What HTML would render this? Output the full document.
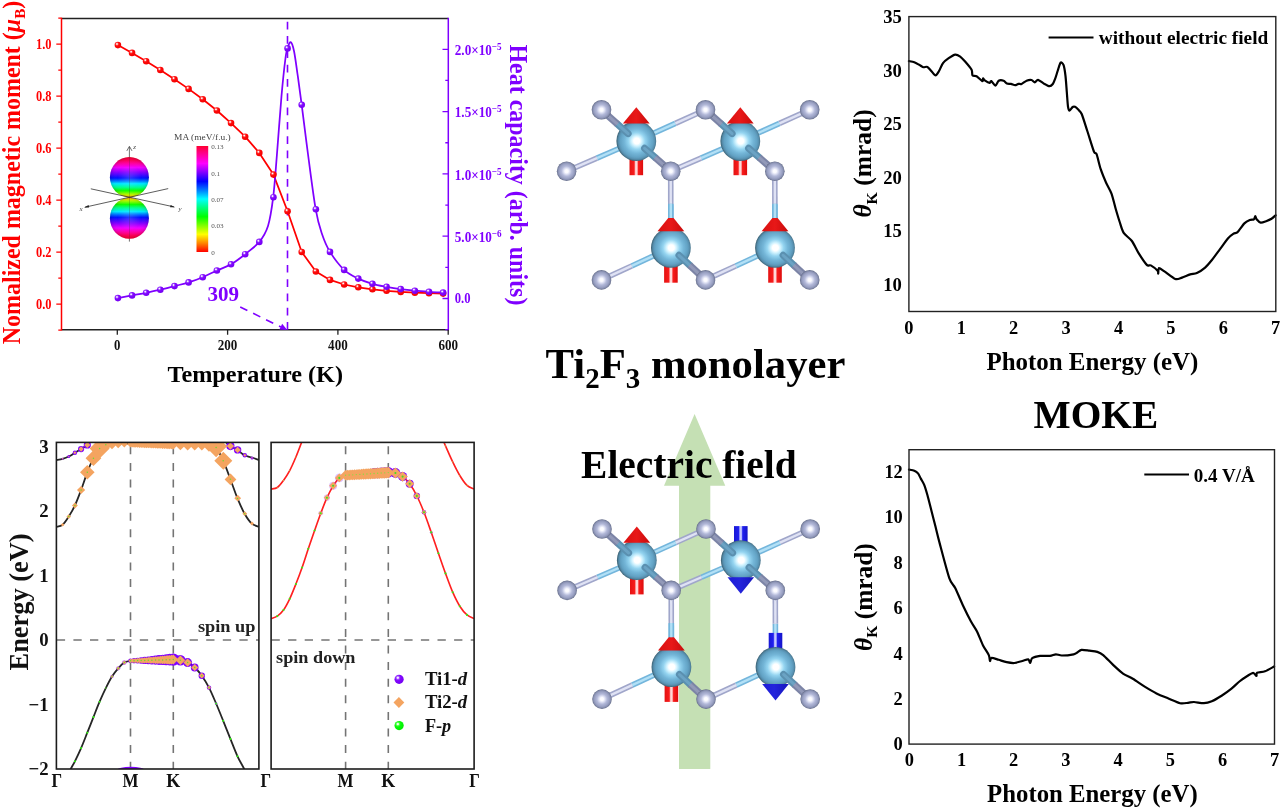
<!DOCTYPE html>
<html><head><meta charset="utf-8"><title>Ti2F3 monolayer</title>
<style>
html,body{margin:0;padding:0;background:#fff;}
body{width:1284px;height:811px;overflow:hidden;font-family:"Liberation Serif",serif;}
svg{display:block;filter:blur(0.35px);}
text{font-family:"Liberation Serif",serif;}
</style></head><body>
<svg width="1284" height="811" viewBox="0 0 1284 811">
<rect width="1284" height="811" fill="#fff"/>

<defs>
<radialGradient id="ballR" cx="0.36" cy="0.33" r="0.75"><stop offset="0" stop-color="#ffffff"/><stop offset="0.1" stop-color="#ffe8e8"/><stop offset="0.24" stop-color="#ff4a4a"/><stop offset="0.42" stop-color="#ff0a0a"/><stop offset="1" stop-color="#ee0000"/></radialGradient>
<radialGradient id="ballP" cx="0.36" cy="0.33" r="0.75"><stop offset="0" stop-color="#ffffff"/><stop offset="0.1" stop-color="#f0e6ff"/><stop offset="0.24" stop-color="#a04cff"/><stop offset="0.42" stop-color="#8206ff"/><stop offset="1" stop-color="#7200ee"/></radialGradient>
<radialGradient id="ballG" cx="0.36" cy="0.33" r="0.75"><stop offset="0" stop-color="#ffffff"/><stop offset="0.1" stop-color="#e8ffe6"/><stop offset="0.24" stop-color="#50ff48"/><stop offset="0.42" stop-color="#08fb08"/><stop offset="1" stop-color="#00ea00"/></radialGradient>
<linearGradient id="cbar" x1="0" y1="0" x2="0" y2="1">
<stop offset="0" stop-color="#ff0030"/><stop offset="0.06" stop-color="#ff0080"/><stop offset="0.165" stop-color="#ff00ff"/><stop offset="0.25" stop-color="#8000ff"/><stop offset="0.333" stop-color="#0000ff"/><stop offset="0.42" stop-color="#0080ff"/><stop offset="0.5" stop-color="#00ffff"/><stop offset="0.58" stop-color="#00ff80"/><stop offset="0.667" stop-color="#00ff00"/><stop offset="0.75" stop-color="#80ff00"/><stop offset="0.833" stop-color="#ffff00"/><stop offset="0.92" stop-color="#ff8000"/><stop offset="1" stop-color="#ff0000"/>
</linearGradient>
<linearGradient id="lobeU" x1="0" y1="0" x2="0" y2="1">
<stop offset="0" stop-color="#ff0030"/><stop offset="0.08" stop-color="#ff0058"/><stop offset="0.16" stop-color="#ff00a0"/><stop offset="0.26" stop-color="#f000ff"/><stop offset="0.38" stop-color="#8000ff"/><stop offset="0.52" stop-color="#0010ff"/><stop offset="0.6" stop-color="#0080ff"/><stop offset="0.66" stop-color="#00e8ff"/><stop offset="0.75" stop-color="#00ff90"/><stop offset="0.835" stop-color="#10ff00"/><stop offset="0.92" stop-color="#b0ff00"/><stop offset="0.97" stop-color="#ffe000"/><stop offset="1" stop-color="#ff9000"/>
</linearGradient>
<linearGradient id="lobeD" x1="0" y1="1" x2="0" y2="0">
<stop offset="0" stop-color="#ff0030"/><stop offset="0.08" stop-color="#ff0058"/><stop offset="0.16" stop-color="#ff00a0"/><stop offset="0.26" stop-color="#f000ff"/><stop offset="0.38" stop-color="#8000ff"/><stop offset="0.52" stop-color="#0010ff"/><stop offset="0.6" stop-color="#0080ff"/><stop offset="0.66" stop-color="#00e8ff"/><stop offset="0.75" stop-color="#00ff90"/><stop offset="0.835" stop-color="#10ff00"/><stop offset="0.92" stop-color="#b0ff00"/><stop offset="0.97" stop-color="#ffe000"/><stop offset="1" stop-color="#ff9000"/>
</linearGradient>
<radialGradient id="lobeSh" cx="0.5" cy="0.5" r="0.5"><stop offset="0" stop-color="#fff" stop-opacity="0.16"/><stop offset="0.6" stop-color="#fff" stop-opacity="0"/><stop offset="0.88" stop-color="#000" stop-opacity="0.04"/><stop offset="1" stop-color="#000" stop-opacity="0.14"/></radialGradient>
<radialGradient id="gTi" cx="0.51" cy="0.5" r="0.5"><stop offset="0" stop-color="#ffffff"/><stop offset="0.15" stop-color="#ffffff"/><stop offset="0.25" stop-color="#d4f4ff"/><stop offset="0.42" stop-color="#94d4f0"/><stop offset="0.62" stop-color="#74b6d8"/><stop offset="0.82" stop-color="#62a2c4"/><stop offset="0.91" stop-color="#5890b0"/><stop offset="0.97" stop-color="#487890"/><stop offset="1" stop-color="#3e6478"/></radialGradient>
<radialGradient id="gF" cx="0.5" cy="0.5" r="0.5"><stop offset="0" stop-color="#ffffff"/><stop offset="0.17" stop-color="#fafaff"/><stop offset="0.32" stop-color="#dcdff2"/><stop offset="0.52" stop-color="#b2b8d8"/><stop offset="0.76" stop-color="#9aa1c3"/><stop offset="0.89" stop-color="#858dad"/><stop offset="0.97" stop-color="#6a7290"/><stop offset="1" stop-color="#5a627e"/></radialGradient>
<linearGradient id="tailR" x1="0" y1="0" x2="1" y2="0"><stop offset="0" stop-color="#e41212"/><stop offset="0.34" stop-color="#f81c1c"/><stop offset="0.45" stop-color="#ffd8d8"/><stop offset="0.55" stop-color="#ffd8d8"/><stop offset="0.66" stop-color="#f81c1c"/><stop offset="1" stop-color="#dc0c0c"/></linearGradient>
<linearGradient id="tailB" x1="0" y1="0" x2="1" y2="0"><stop offset="0" stop-color="#1818d4"/><stop offset="0.34" stop-color="#2020f0"/><stop offset="0.44" stop-color="#c4c8ff"/><stop offset="0.54" stop-color="#c4c8ff"/><stop offset="0.64" stop-color="#2020f0"/><stop offset="1" stop-color="#1414c8"/></linearGradient>
<linearGradient id="coneR" x1="0" y1="0" x2="1" y2="0"><stop offset="0" stop-color="#d81010"/><stop offset="0.5" stop-color="#e81818"/><stop offset="1" stop-color="#c80c0c"/></linearGradient>
<linearGradient id="coneB" x1="0" y1="0" x2="1" y2="0"><stop offset="0" stop-color="#1c1cd8"/><stop offset="0.45" stop-color="#2424dc"/><stop offset="1" stop-color="#1616bc"/></linearGradient>
</defs>
<path d="M694.6 414 L725.3 485.8 L710.3 485.8 L710.3 769 L679 769 L679 485.8 L664 485.8 z" fill="#c5e0b4"/>
<g transform="translate(0 0)">
<line x1="636.3" y1="141" x2="675.4" y2="123.37" stroke="#74b6dc" stroke-width="5.6" stroke-linecap="butt"/><line x1="675.4" y1="123.37" x2="705.5" y2="109.8" stroke="#a0a6ca" stroke-width="5.6"/><line x1="636.3" y1="141" x2="675.4" y2="123.37" stroke="#b2e0f6" stroke-width="2.4" stroke-linecap="butt"/><line x1="675.4" y1="123.37" x2="705.5" y2="109.8" stroke="#dfe2f4" stroke-width="2.4"/>
<line x1="636.3" y1="141" x2="596.92" y2="158.06" stroke="#74b6dc" stroke-width="5.6" stroke-linecap="butt"/><line x1="596.92" y1="158.06" x2="566.6" y2="171.2" stroke="#a0a6ca" stroke-width="5.6"/><line x1="636.3" y1="141" x2="596.92" y2="158.06" stroke="#b2e0f6" stroke-width="2.4" stroke-linecap="butt"/><line x1="596.92" y1="158.06" x2="566.6" y2="171.2" stroke="#dfe2f4" stroke-width="2.4"/>
<line x1="740.3" y1="141" x2="779.51" y2="123.37" stroke="#74b6dc" stroke-width="5.6" stroke-linecap="butt"/><line x1="779.51" y1="123.37" x2="809.7" y2="109.8" stroke="#a0a6ca" stroke-width="5.6"/><line x1="740.3" y1="141" x2="779.51" y2="123.37" stroke="#b2e0f6" stroke-width="2.4" stroke-linecap="butt"/><line x1="779.51" y1="123.37" x2="809.7" y2="109.8" stroke="#dfe2f4" stroke-width="2.4"/>
<line x1="740.3" y1="141" x2="700.98" y2="158.06" stroke="#74b6dc" stroke-width="5.6" stroke-linecap="butt"/><line x1="700.98" y1="158.06" x2="670.7" y2="171.2" stroke="#a0a6ca" stroke-width="5.6"/><line x1="740.3" y1="141" x2="700.98" y2="158.06" stroke="#b2e0f6" stroke-width="2.4" stroke-linecap="butt"/><line x1="700.98" y1="158.06" x2="670.7" y2="171.2" stroke="#dfe2f4" stroke-width="2.4"/>
<line x1="670.9" y1="247.8" x2="670.79" y2="204.52" stroke="#74b6dc" stroke-width="5.6" stroke-linecap="butt"/><line x1="670.79" y1="204.52" x2="670.7" y2="171.2" stroke="#a0a6ca" stroke-width="5.6"/><line x1="670.9" y1="247.8" x2="670.79" y2="204.52" stroke="#b2e0f6" stroke-width="2.4" stroke-linecap="butt"/><line x1="670.79" y1="204.52" x2="670.7" y2="171.2" stroke="#dfe2f4" stroke-width="2.4"/>
<line x1="670.9" y1="247.8" x2="631.69" y2="265.94" stroke="#74b6dc" stroke-width="5.6" stroke-linecap="butt"/><line x1="631.69" y1="265.94" x2="601.5" y2="279.9" stroke="#a0a6ca" stroke-width="5.6"/><line x1="670.9" y1="247.8" x2="631.69" y2="265.94" stroke="#b2e0f6" stroke-width="2.4" stroke-linecap="butt"/><line x1="631.69" y1="265.94" x2="601.5" y2="279.9" stroke="#dfe2f4" stroke-width="2.4"/>
<line x1="775" y1="247.8" x2="774.89" y2="204.52" stroke="#74b6dc" stroke-width="5.6" stroke-linecap="butt"/><line x1="774.89" y1="204.52" x2="774.8" y2="171.2" stroke="#a0a6ca" stroke-width="5.6"/><line x1="775" y1="247.8" x2="774.89" y2="204.52" stroke="#b2e0f6" stroke-width="2.4" stroke-linecap="butt"/><line x1="774.89" y1="204.52" x2="774.8" y2="171.2" stroke="#dfe2f4" stroke-width="2.4"/>
<line x1="775" y1="247.8" x2="735.73" y2="265.94" stroke="#74b6dc" stroke-width="5.6" stroke-linecap="butt"/><line x1="735.73" y1="265.94" x2="705.5" y2="279.9" stroke="#a0a6ca" stroke-width="5.6"/><line x1="775" y1="247.8" x2="735.73" y2="265.94" stroke="#b2e0f6" stroke-width="2.4" stroke-linecap="butt"/><line x1="735.73" y1="265.94" x2="705.5" y2="279.9" stroke="#dfe2f4" stroke-width="2.4"/>
<rect x="629.5" y="158.2" width="13.6" height="17" fill="url(#tailR)"/>
<rect x="733.5" y="158.2" width="13.6" height="17" fill="url(#tailR)"/>
<rect x="664.1" y="265" width="13.6" height="17.7" fill="url(#tailR)"/>
<rect x="768.2" y="265" width="13.6" height="17.7" fill="url(#tailR)"/>
<circle cx="636.3" cy="141" r="19.9" fill="url(#gTi)"/>
<circle cx="740.3" cy="141" r="19.9" fill="url(#gTi)"/>
<circle cx="670.9" cy="247.8" r="19.9" fill="url(#gTi)"/>
<circle cx="775" cy="247.8" r="19.9" fill="url(#gTi)"/>
<path d="M622.9 123.6 L649.7 123.6 L636.3 107.2 z" fill="url(#coneR)"/>
<path d="M726.9 123.6 L753.7 123.6 L740.3 107.2 z" fill="url(#coneR)"/>
<path d="M657.5 231.2 L684.3 231.2 L670.9 214.8 z" fill="url(#coneR)"/>
<line x1="670.8" y1="203.8" x2="670.8" y2="218" stroke="#74b6dc" stroke-width="5.6"/>
<line x1="670.8" y1="203.8" x2="670.8" y2="218" stroke="#b2e0f6" stroke-width="2.4"/>
<path d="M761.6 231.2 L788.4 231.2 L775 214.8 z" fill="url(#coneR)"/>
<line x1="774.9" y1="203.8" x2="774.9" y2="218" stroke="#74b6dc" stroke-width="5.6"/>
<line x1="774.9" y1="203.8" x2="774.9" y2="218" stroke="#b2e0f6" stroke-width="2.4"/>
<line x1="628.11" y1="133.66" x2="617.47" y2="124.11" stroke="#5b90b0" stroke-width="7" stroke-linecap="round"/><line x1="617.47" y1="124.11" x2="601.5" y2="109.8" stroke="#7c84a6" stroke-width="7"/><line x1="628.11" y1="133.66" x2="617.47" y2="124.11" stroke="#6ba3c4" stroke-width="3" stroke-linecap="round"/><line x1="617.47" y1="124.11" x2="601.5" y2="109.8" stroke="#9299b8" stroke-width="3"/>
<line x1="644.57" y1="148.26" x2="655.02" y2="157.43" stroke="#5b90b0" stroke-width="7" stroke-linecap="round"/><line x1="655.02" y1="157.43" x2="670.7" y2="171.2" stroke="#7c84a6" stroke-width="7"/><line x1="644.57" y1="148.26" x2="655.02" y2="157.43" stroke="#6ba3c4" stroke-width="3" stroke-linecap="round"/><line x1="655.02" y1="157.43" x2="670.7" y2="171.2" stroke="#9299b8" stroke-width="3"/>
<line x1="732.11" y1="133.66" x2="721.47" y2="124.11" stroke="#5b90b0" stroke-width="7" stroke-linecap="round"/><line x1="721.47" y1="124.11" x2="705.5" y2="109.8" stroke="#7c84a6" stroke-width="7"/><line x1="732.11" y1="133.66" x2="721.47" y2="124.11" stroke="#6ba3c4" stroke-width="3" stroke-linecap="round"/><line x1="721.47" y1="124.11" x2="705.5" y2="109.8" stroke="#9299b8" stroke-width="3"/>
<line x1="748.58" y1="148.25" x2="759.07" y2="157.43" stroke="#5b90b0" stroke-width="7" stroke-linecap="round"/><line x1="759.07" y1="157.43" x2="774.8" y2="171.2" stroke="#7c84a6" stroke-width="7"/><line x1="748.58" y1="148.25" x2="759.07" y2="157.43" stroke="#6ba3c4" stroke-width="3" stroke-linecap="round"/><line x1="759.07" y1="157.43" x2="774.8" y2="171.2" stroke="#9299b8" stroke-width="3"/>
<line x1="678.96" y1="255.28" x2="689.58" y2="265.13" stroke="#5b90b0" stroke-width="7" stroke-linecap="round"/><line x1="689.58" y1="265.13" x2="705.5" y2="279.9" stroke="#7c84a6" stroke-width="7"/><line x1="678.96" y1="255.28" x2="689.58" y2="265.13" stroke="#6ba3c4" stroke-width="3" stroke-linecap="round"/><line x1="689.58" y1="265.13" x2="705.5" y2="279.9" stroke="#9299b8" stroke-width="3"/>
<line x1="783.07" y1="255.27" x2="793.72" y2="265.12" stroke="#5b90b0" stroke-width="7" stroke-linecap="round"/><line x1="793.72" y1="265.12" x2="809.7" y2="279.9" stroke="#7c84a6" stroke-width="7"/><line x1="783.07" y1="255.27" x2="793.72" y2="265.12" stroke="#6ba3c4" stroke-width="3" stroke-linecap="round"/><line x1="793.72" y1="265.12" x2="809.7" y2="279.9" stroke="#9299b8" stroke-width="3"/>
<circle cx="601.5" cy="109.8" r="9.8" fill="url(#gF)"/>
<circle cx="705.5" cy="109.8" r="9.8" fill="url(#gF)"/>
<circle cx="809.7" cy="109.8" r="9.8" fill="url(#gF)"/>
<circle cx="566.6" cy="171.2" r="9.8" fill="url(#gF)"/>
<circle cx="670.7" cy="171.2" r="9.8" fill="url(#gF)"/>
<circle cx="774.8" cy="171.2" r="9.8" fill="url(#gF)"/>
<circle cx="601.5" cy="279.9" r="9.8" fill="url(#gF)"/>
<circle cx="705.5" cy="279.9" r="9.8" fill="url(#gF)"/>
<circle cx="809.7" cy="279.9" r="9.8" fill="url(#gF)"/>
</g>
<g transform="translate(0.5 419.2)">
<line x1="636.3" y1="141" x2="675.4" y2="123.37" stroke="#74b6dc" stroke-width="5.6" stroke-linecap="butt"/><line x1="675.4" y1="123.37" x2="705.5" y2="109.8" stroke="#a0a6ca" stroke-width="5.6"/><line x1="636.3" y1="141" x2="675.4" y2="123.37" stroke="#b2e0f6" stroke-width="2.4" stroke-linecap="butt"/><line x1="675.4" y1="123.37" x2="705.5" y2="109.8" stroke="#dfe2f4" stroke-width="2.4"/>
<line x1="636.3" y1="141" x2="596.92" y2="158.06" stroke="#74b6dc" stroke-width="5.6" stroke-linecap="butt"/><line x1="596.92" y1="158.06" x2="566.6" y2="171.2" stroke="#a0a6ca" stroke-width="5.6"/><line x1="636.3" y1="141" x2="596.92" y2="158.06" stroke="#b2e0f6" stroke-width="2.4" stroke-linecap="butt"/><line x1="596.92" y1="158.06" x2="566.6" y2="171.2" stroke="#dfe2f4" stroke-width="2.4"/>
<line x1="740.3" y1="141" x2="779.51" y2="123.37" stroke="#74b6dc" stroke-width="5.6" stroke-linecap="butt"/><line x1="779.51" y1="123.37" x2="809.7" y2="109.8" stroke="#a0a6ca" stroke-width="5.6"/><line x1="740.3" y1="141" x2="779.51" y2="123.37" stroke="#b2e0f6" stroke-width="2.4" stroke-linecap="butt"/><line x1="779.51" y1="123.37" x2="809.7" y2="109.8" stroke="#dfe2f4" stroke-width="2.4"/>
<line x1="740.3" y1="141" x2="700.98" y2="158.06" stroke="#74b6dc" stroke-width="5.6" stroke-linecap="butt"/><line x1="700.98" y1="158.06" x2="670.7" y2="171.2" stroke="#a0a6ca" stroke-width="5.6"/><line x1="740.3" y1="141" x2="700.98" y2="158.06" stroke="#b2e0f6" stroke-width="2.4" stroke-linecap="butt"/><line x1="700.98" y1="158.06" x2="670.7" y2="171.2" stroke="#dfe2f4" stroke-width="2.4"/>
<line x1="670.9" y1="247.8" x2="670.79" y2="204.52" stroke="#74b6dc" stroke-width="5.6" stroke-linecap="butt"/><line x1="670.79" y1="204.52" x2="670.7" y2="171.2" stroke="#a0a6ca" stroke-width="5.6"/><line x1="670.9" y1="247.8" x2="670.79" y2="204.52" stroke="#b2e0f6" stroke-width="2.4" stroke-linecap="butt"/><line x1="670.79" y1="204.52" x2="670.7" y2="171.2" stroke="#dfe2f4" stroke-width="2.4"/>
<line x1="670.9" y1="247.8" x2="631.69" y2="265.94" stroke="#74b6dc" stroke-width="5.6" stroke-linecap="butt"/><line x1="631.69" y1="265.94" x2="601.5" y2="279.9" stroke="#a0a6ca" stroke-width="5.6"/><line x1="670.9" y1="247.8" x2="631.69" y2="265.94" stroke="#b2e0f6" stroke-width="2.4" stroke-linecap="butt"/><line x1="631.69" y1="265.94" x2="601.5" y2="279.9" stroke="#dfe2f4" stroke-width="2.4"/>
<line x1="775" y1="247.8" x2="774.89" y2="204.52" stroke="#74b6dc" stroke-width="5.6" stroke-linecap="butt"/><line x1="774.89" y1="204.52" x2="774.8" y2="171.2" stroke="#a0a6ca" stroke-width="5.6"/><line x1="775" y1="247.8" x2="774.89" y2="204.52" stroke="#b2e0f6" stroke-width="2.4" stroke-linecap="butt"/><line x1="774.89" y1="204.52" x2="774.8" y2="171.2" stroke="#dfe2f4" stroke-width="2.4"/>
<line x1="775" y1="247.8" x2="735.73" y2="265.94" stroke="#74b6dc" stroke-width="5.6" stroke-linecap="butt"/><line x1="735.73" y1="265.94" x2="705.5" y2="279.9" stroke="#a0a6ca" stroke-width="5.6"/><line x1="775" y1="247.8" x2="735.73" y2="265.94" stroke="#b2e0f6" stroke-width="2.4" stroke-linecap="butt"/><line x1="735.73" y1="265.94" x2="705.5" y2="279.9" stroke="#dfe2f4" stroke-width="2.4"/>
<rect x="629.5" y="158.2" width="13.6" height="17" fill="url(#tailR)"/>
<rect x="733.5" y="106.9" width="13.6" height="17" fill="url(#tailB)"/>
<rect x="664.1" y="265" width="13.6" height="17.7" fill="url(#tailR)"/>
<rect x="768.2" y="213.7" width="13.6" height="17" fill="url(#tailB)"/>
<circle cx="636.3" cy="141" r="19.9" fill="url(#gTi)"/>
<circle cx="740.3" cy="141" r="19.9" fill="url(#gTi)"/>
<circle cx="670.9" cy="247.8" r="19.9" fill="url(#gTi)"/>
<circle cx="775" cy="247.8" r="19.9" fill="url(#gTi)"/>
<path d="M622.9 123.6 L649.7 123.6 L636.3 107.2 z" fill="url(#coneR)"/>
<path d="M727 158.1 L753.6 158.1 L740.3 174.5 z" fill="url(#coneB)"/>
<path d="M657.5 231.2 L684.3 231.2 L670.9 214.8 z" fill="url(#coneR)"/>
<line x1="670.8" y1="203.8" x2="670.8" y2="218" stroke="#74b6dc" stroke-width="5.6"/>
<line x1="670.8" y1="203.8" x2="670.8" y2="218" stroke="#b2e0f6" stroke-width="2.4"/>
<path d="M761.7 264.9 L788.3 264.9 L775 281.3 z" fill="url(#coneB)"/>
<line x1="628.11" y1="133.66" x2="617.47" y2="124.11" stroke="#5b90b0" stroke-width="7" stroke-linecap="round"/><line x1="617.47" y1="124.11" x2="601.5" y2="109.8" stroke="#7c84a6" stroke-width="7"/><line x1="628.11" y1="133.66" x2="617.47" y2="124.11" stroke="#6ba3c4" stroke-width="3" stroke-linecap="round"/><line x1="617.47" y1="124.11" x2="601.5" y2="109.8" stroke="#9299b8" stroke-width="3"/>
<line x1="644.57" y1="148.26" x2="655.02" y2="157.43" stroke="#5b90b0" stroke-width="7" stroke-linecap="round"/><line x1="655.02" y1="157.43" x2="670.7" y2="171.2" stroke="#7c84a6" stroke-width="7"/><line x1="644.57" y1="148.26" x2="655.02" y2="157.43" stroke="#6ba3c4" stroke-width="3" stroke-linecap="round"/><line x1="655.02" y1="157.43" x2="670.7" y2="171.2" stroke="#9299b8" stroke-width="3"/>
<line x1="732.11" y1="133.66" x2="721.47" y2="124.11" stroke="#5b90b0" stroke-width="7" stroke-linecap="round"/><line x1="721.47" y1="124.11" x2="705.5" y2="109.8" stroke="#7c84a6" stroke-width="7"/><line x1="732.11" y1="133.66" x2="721.47" y2="124.11" stroke="#6ba3c4" stroke-width="3" stroke-linecap="round"/><line x1="721.47" y1="124.11" x2="705.5" y2="109.8" stroke="#9299b8" stroke-width="3"/>
<line x1="748.58" y1="148.25" x2="759.07" y2="157.43" stroke="#5b90b0" stroke-width="7" stroke-linecap="round"/><line x1="759.07" y1="157.43" x2="774.8" y2="171.2" stroke="#7c84a6" stroke-width="7"/><line x1="748.58" y1="148.25" x2="759.07" y2="157.43" stroke="#6ba3c4" stroke-width="3" stroke-linecap="round"/><line x1="759.07" y1="157.43" x2="774.8" y2="171.2" stroke="#9299b8" stroke-width="3"/>
<line x1="678.96" y1="255.28" x2="689.58" y2="265.13" stroke="#5b90b0" stroke-width="7" stroke-linecap="round"/><line x1="689.58" y1="265.13" x2="705.5" y2="279.9" stroke="#7c84a6" stroke-width="7"/><line x1="678.96" y1="255.28" x2="689.58" y2="265.13" stroke="#6ba3c4" stroke-width="3" stroke-linecap="round"/><line x1="689.58" y1="265.13" x2="705.5" y2="279.9" stroke="#9299b8" stroke-width="3"/>
<line x1="783.07" y1="255.27" x2="793.72" y2="265.12" stroke="#5b90b0" stroke-width="7" stroke-linecap="round"/><line x1="793.72" y1="265.12" x2="809.7" y2="279.9" stroke="#7c84a6" stroke-width="7"/><line x1="783.07" y1="255.27" x2="793.72" y2="265.12" stroke="#6ba3c4" stroke-width="3" stroke-linecap="round"/><line x1="793.72" y1="265.12" x2="809.7" y2="279.9" stroke="#9299b8" stroke-width="3"/>
<circle cx="601.5" cy="109.8" r="9.8" fill="url(#gF)"/>
<circle cx="705.5" cy="109.8" r="9.8" fill="url(#gF)"/>
<circle cx="809.7" cy="109.8" r="9.8" fill="url(#gF)"/>
<circle cx="566.6" cy="171.2" r="9.8" fill="url(#gF)"/>
<circle cx="670.7" cy="171.2" r="9.8" fill="url(#gF)"/>
<circle cx="774.8" cy="171.2" r="9.8" fill="url(#gF)"/>
<circle cx="601.5" cy="279.9" r="9.8" fill="url(#gF)"/>
<circle cx="705.5" cy="279.9" r="9.8" fill="url(#gF)"/>
<circle cx="809.7" cy="279.9" r="9.8" fill="url(#gF)"/>
</g>
<text x="545.6" y="377.9" font-family="Liberation Serif" font-size="42" font-weight="bold" fill="#000" textLength="299.8" lengthAdjust="spacingAndGlyphs">Ti<tspan font-size="28.5" dy="10">2</tspan><tspan dy="-10">F</tspan><tspan font-size="28.5" dy="10">3</tspan><tspan dy="-10"> monolayer</tspan></text>
<text x="581.1" y="477.7" font-family="Liberation Serif" font-size="39" font-weight="bold" fill="#000" text-anchor="start" textLength="215.6" lengthAdjust="spacingAndGlyphs" >Electric field</text>
<g>
<line x1="129.4" y1="147" x2="129.4" y2="241.6" stroke="#333" stroke-width="0.7"/>
<path d="M129.4 146.3 l-2.6 4.6 M129.4 146.3 l2.6 4.6" stroke="#333" stroke-width="0.7" fill="none"/>
<ellipse cx="129.4" cy="177.2" rx="19.5" ry="20.2" fill="url(#lobeU)"/>
<ellipse cx="129.4" cy="177.2" rx="19.5" ry="20.2" fill="url(#lobeSh)"/>
<ellipse cx="129.4" cy="218.2" rx="19.5" ry="20.5" fill="url(#lobeD)"/>
<ellipse cx="129.4" cy="218.2" rx="19.5" ry="20.5" fill="url(#lobeSh)"/>
<line x1="129.4" y1="157.7" x2="129.4" y2="237.6" stroke="#333" stroke-width="0.5" opacity="0.55"/>
<line x1="168.2" y1="188.6" x2="85" y2="207.2" stroke="#333" stroke-width="0.8"/>
<line x1="90.8" y1="188.8" x2="174" y2="206.9" stroke="#333" stroke-width="0.8"/>
<path d="M84 207.4 l4.6 -2.3 l0.5 2.3 z" fill="#222"/>
<path d="M175.2 207.2 l-4.6 -2.3 l-0.5 2.3 z" fill="#222"/>
<text x="133.2" y="149.3" font-family="Liberation Serif" font-size="7" font-weight="normal" font-style="italic" fill="#444" text-anchor="start" >z</text>
<text x="79.6" y="210.8" font-family="Liberation Serif" font-size="7" font-weight="normal" font-style="italic" fill="#444" text-anchor="start" >x</text>
<text x="178.4" y="210.6" font-family="Liberation Serif" font-size="7" font-weight="normal" font-style="italic" fill="#444" text-anchor="start" >y</text>
<rect x="196.5" y="146" width="11.7" height="106" fill="url(#cbar)"/>
<text x="211.2" y="149" font-family="Liberation Serif" font-size="7.1" font-weight="normal" fill="#555" text-anchor="start" >0.13</text>
<text x="211.2" y="175.6" font-family="Liberation Serif" font-size="7.1" font-weight="normal" fill="#555" text-anchor="start" >0.1</text>
<text x="211.2" y="201.7" font-family="Liberation Serif" font-size="7.1" font-weight="normal" fill="#555" text-anchor="start" >0.07</text>
<text x="211.2" y="228.3" font-family="Liberation Serif" font-size="7.1" font-weight="normal" fill="#555" text-anchor="start" >0.03</text>
<text x="211.2" y="255" font-family="Liberation Serif" font-size="7.1" font-weight="normal" fill="#555" text-anchor="start" >0</text>
<text x="174.1" y="140.3" font-family="Liberation Serif" font-size="8.6" font-weight="normal" fill="#444" text-anchor="start" textLength="56.6" lengthAdjust="spacingAndGlyphs" >MA (meV/f.u.)</text>
</g>
<line x1="61.5" y1="18.5" x2="448.3" y2="18.5" stroke="#222" stroke-width="1.5"/>
<line x1="61.5" y1="329.8" x2="448.3" y2="329.8" stroke="#222" stroke-width="1.5"/>
<line x1="61.5" y1="17.8" x2="61.5" y2="330.5" stroke="#ff0000" stroke-width="1.5"/>
<line x1="448.3" y1="17.8" x2="448.3" y2="330.5" stroke="#7f00ff" stroke-width="1.5"/>
<path d="M61.5 44.2 h-5.2 M61.5 96.2 h-5.2 M61.5 148.2 h-5.2 M61.5 200.2 h-5.2 M61.5 252.2 h-5.2 M61.5 304.2 h-5.2 M61.5 18.2 h-3.2 M61.5 70.2 h-3.2 M61.5 122.2 h-3.2 M61.5 174.2 h-3.2 M61.5 226.2 h-3.2 M61.5 278.2 h-3.2 M61.5 330.2 h-3.2 " stroke="#ff0000" stroke-width="1.3" fill="none"/>
<text x="51.5" y="48.8" font-family="Liberation Serif" font-size="13.8" font-weight="bold" fill="#ff0000" text-anchor="end" textLength="15.5" lengthAdjust="spacingAndGlyphs" >1.0</text>
<text x="51.5" y="100.8" font-family="Liberation Serif" font-size="13.8" font-weight="bold" fill="#ff0000" text-anchor="end" textLength="15.5" lengthAdjust="spacingAndGlyphs" >0.8</text>
<text x="51.5" y="152.8" font-family="Liberation Serif" font-size="13.8" font-weight="bold" fill="#ff0000" text-anchor="end" textLength="15.5" lengthAdjust="spacingAndGlyphs" >0.6</text>
<text x="51.5" y="204.8" font-family="Liberation Serif" font-size="13.8" font-weight="bold" fill="#ff0000" text-anchor="end" textLength="15.5" lengthAdjust="spacingAndGlyphs" >0.4</text>
<text x="51.5" y="256.8" font-family="Liberation Serif" font-size="13.8" font-weight="bold" fill="#ff0000" text-anchor="end" textLength="15.5" lengthAdjust="spacingAndGlyphs" >0.2</text>
<text x="51.5" y="308.8" font-family="Liberation Serif" font-size="13.8" font-weight="bold" fill="#ff0000" text-anchor="end" textLength="15.5" lengthAdjust="spacingAndGlyphs" >0.0</text>
<path d="M448.3 49.3 h-5.8 M448.3 111.6 h-5.8 M448.3 173.9 h-5.8 M448.3 236.2 h-5.8 M448.3 298.5 h-5.8 M448.3 80.45 h-3 M448.3 142.75 h-3 M448.3 205.05 h-3 M448.3 267.35 h-3 M448.3 329.65 h-3 " stroke="#7f00ff" stroke-width="1.3" fill="none"/>
<text x="454.8" y="54.9" font-family="Liberation Serif" font-size="13.8" font-weight="bold" fill="#7f00ff" textLength="46.8" lengthAdjust="spacingAndGlyphs">2.0&#215;10<tspan font-size="9.6" dy="-4.8">&#8722;5</tspan></text>
<text x="454.8" y="117.2" font-family="Liberation Serif" font-size="13.8" font-weight="bold" fill="#7f00ff" textLength="46.8" lengthAdjust="spacingAndGlyphs">1.5&#215;10<tspan font-size="9.6" dy="-4.8">&#8722;5</tspan></text>
<text x="454.8" y="179.5" font-family="Liberation Serif" font-size="13.8" font-weight="bold" fill="#7f00ff" textLength="46.8" lengthAdjust="spacingAndGlyphs">1.0&#215;10<tspan font-size="9.6" dy="-4.8">&#8722;5</tspan></text>
<text x="454.8" y="241.8" font-family="Liberation Serif" font-size="13.8" font-weight="bold" fill="#7f00ff" textLength="46.8" lengthAdjust="spacingAndGlyphs">5.0&#215;10<tspan font-size="9.6" dy="-4.8">&#8722;6</tspan></text>
<text x="454.8" y="303.3" font-family="Liberation Serif" font-size="13.8" font-weight="bold" fill="#7f00ff" text-anchor="start" textLength="15.8" lengthAdjust="spacingAndGlyphs" >0.0</text>
<path d="M117.3 329.8 v5 M227.6 329.8 v5 M337.9 329.8 v5 M448.2 329.8 v5 " stroke="#222" stroke-width="1.3" fill="none"/>
<text x="117.3" y="349.6" font-family="Liberation Serif" font-size="13.6" font-weight="bold" fill="#111" text-anchor="middle" textLength="6.4" lengthAdjust="spacingAndGlyphs" >0</text>
<text x="227.6" y="349.6" font-family="Liberation Serif" font-size="13.6" font-weight="bold" fill="#111" text-anchor="middle" textLength="19.6" lengthAdjust="spacingAndGlyphs" >200</text>
<text x="337.9" y="349.6" font-family="Liberation Serif" font-size="13.6" font-weight="bold" fill="#111" text-anchor="middle" textLength="19.6" lengthAdjust="spacingAndGlyphs" >400</text>
<text x="448.2" y="349.6" font-family="Liberation Serif" font-size="13.6" font-weight="bold" fill="#111" text-anchor="middle" textLength="19.6" lengthAdjust="spacingAndGlyphs" >600</text>
<text x="167.5" y="381.6" font-family="Liberation Serif" font-size="23.4" font-weight="bold" fill="#000" text-anchor="start" textLength="175.5" lengthAdjust="spacingAndGlyphs" >Temperature (K)</text>
<text transform="translate(20 344.2) rotate(-90)" font-family="Liberation Serif" font-size="24.4" font-weight="bold" fill="#ff0000" textLength="343.5" lengthAdjust="spacingAndGlyphs">Nomalized magnetic moment (<tspan font-style="italic">&#956;</tspan><tspan font-size="15.5" dy="5.4">B</tspan><tspan dy="-5.4">)</tspan></text>
<text transform="translate(510 44.4) rotate(90)" font-family="Liberation Serif" font-size="24.6" font-weight="bold" fill="#7f00ff" textLength="261" lengthAdjust="spacingAndGlyphs">Heat capacity (arb. units)</text>
<line x1="287.5" y1="329.8" x2="287.5" y2="19.5" stroke="#7f00ff" stroke-width="1.6" stroke-dasharray="7.7 6.6"/>
<line x1="240.2" y1="307" x2="281" y2="327" stroke="#7f00ff" stroke-width="1.6" stroke-dasharray="8 6.4"/>
<path d="M287.2 330 L279.4 329.6 L282.2 323.8 z" fill="#7f00ff"/>
<text x="207.5" y="301.3" font-family="Liberation Serif" font-size="21.4" font-weight="bold" fill="#7f00ff" text-anchor="start" textLength="31.6" lengthAdjust="spacingAndGlyphs" >309</text>
<path d="M117.9 45.1 L132.04 52.9 L146.18 61.2 L160.32 70 L174.46 79.2 L188.6 88.9 L202.74 99.3 L216.88 110.5 L231.02 123.1 L245.16 136.7 L259.3 152.9 L273.44 174.6 L287.58 211.2 L301.72 252 L315.86 271.5 L330 279.9 L344.14 284.5 L358.28 287.3 L372.42 289.3 L386.56 290.8 L400.7 291.9 L414.84 292.7 L428.98 293.2 L443.12 293.6" stroke="#ff0000" stroke-width="1.75" fill="none" stroke-linejoin="round"/>
<path d="M117.9 298.1 C120.26 297.65 127.33 296.28 132.04 295.4 C136.75 294.52 141.47 293.75 146.18 292.8 C150.89 291.85 155.61 290.82 160.32 289.7 C165.03 288.58 169.75 287.32 174.46 286.1 C179.17 284.88 183.89 283.88 188.6 282.4 C193.31 280.92 198.03 279.18 202.74 277.2 C207.45 275.22 212.17 272.65 216.88 270.5 C221.59 268.35 226.31 267.02 231.02 264.3 C235.73 261.58 240.45 257.93 245.16 254.2 C249.87 250.47 255.49 246.6 259.3 241.9 C263.11 237.2 265.68 233.45 268 226 C270.32 218.55 271.72 209.03 273.2 197.2 C274.68 185.37 275.52 171.87 276.9 155 C278.28 138.13 280.07 112.17 281.5 96 C282.93 79.83 284.48 66 285.5 58 C286.52 50 286.73 50.65 287.6 48 C288.47 45.35 289.63 41.6 290.7 42.1 C291.77 42.6 292.87 45.68 294 51 C295.13 56.32 296.22 65.03 297.5 74 C298.78 82.97 299.93 91.3 301.7 104.8 C303.47 118.3 305.77 137.58 308.1 155 C310.43 172.42 313.38 196.13 315.7 209.3 C318.02 222.47 319.62 226.9 322 234 C324.38 241.1 326.31 245.92 330 251.9 C333.69 257.88 339.43 265.45 344.14 269.9 C348.85 274.35 353.57 276.28 358.28 278.6 C362.99 280.92 367.71 282.43 372.42 283.8 C377.13 285.17 381.85 285.92 386.56 286.8 C391.27 287.68 395.99 288.45 400.7 289.1 C405.41 289.75 410.13 290.25 414.84 290.7 C419.55 291.15 424.27 291.48 428.98 291.8 C433.69 292.12 440.76 292.47 443.12 292.6" stroke="#7f00ff" stroke-width="1.75" fill="none" stroke-linejoin="round"/>
<circle cx="117.9" cy="45.1" r="3.3" fill="url(#ballR)"/>
<circle cx="132.04" cy="52.9" r="3.3" fill="url(#ballR)"/>
<circle cx="146.18" cy="61.2" r="3.3" fill="url(#ballR)"/>
<circle cx="160.32" cy="70" r="3.3" fill="url(#ballR)"/>
<circle cx="174.46" cy="79.2" r="3.3" fill="url(#ballR)"/>
<circle cx="188.6" cy="88.9" r="3.3" fill="url(#ballR)"/>
<circle cx="202.74" cy="99.3" r="3.3" fill="url(#ballR)"/>
<circle cx="216.88" cy="110.5" r="3.3" fill="url(#ballR)"/>
<circle cx="231.02" cy="123.1" r="3.3" fill="url(#ballR)"/>
<circle cx="245.16" cy="136.7" r="3.3" fill="url(#ballR)"/>
<circle cx="259.3" cy="152.9" r="3.3" fill="url(#ballR)"/>
<circle cx="273.44" cy="174.6" r="3.3" fill="url(#ballR)"/>
<circle cx="287.58" cy="211.2" r="3.3" fill="url(#ballR)"/>
<circle cx="301.72" cy="252" r="3.3" fill="url(#ballR)"/>
<circle cx="315.86" cy="271.5" r="3.3" fill="url(#ballR)"/>
<circle cx="330" cy="279.9" r="3.3" fill="url(#ballR)"/>
<circle cx="344.14" cy="284.5" r="3.3" fill="url(#ballR)"/>
<circle cx="358.28" cy="287.3" r="3.3" fill="url(#ballR)"/>
<circle cx="372.42" cy="289.3" r="3.3" fill="url(#ballR)"/>
<circle cx="386.56" cy="290.8" r="3.3" fill="url(#ballR)"/>
<circle cx="400.7" cy="291.9" r="3.3" fill="url(#ballR)"/>
<circle cx="414.84" cy="292.7" r="3.3" fill="url(#ballR)"/>
<circle cx="428.98" cy="293.2" r="3.3" fill="url(#ballR)"/>
<circle cx="443.12" cy="293.6" r="3.3" fill="url(#ballR)"/>
<circle cx="117.9" cy="298.1" r="3.3" fill="url(#ballP)"/>
<circle cx="132.04" cy="295.4" r="3.3" fill="url(#ballP)"/>
<circle cx="146.18" cy="292.8" r="3.3" fill="url(#ballP)"/>
<circle cx="160.32" cy="289.7" r="3.3" fill="url(#ballP)"/>
<circle cx="174.46" cy="286.1" r="3.3" fill="url(#ballP)"/>
<circle cx="188.6" cy="282.4" r="3.3" fill="url(#ballP)"/>
<circle cx="202.74" cy="277.2" r="3.3" fill="url(#ballP)"/>
<circle cx="216.88" cy="270.5" r="3.3" fill="url(#ballP)"/>
<circle cx="231.02" cy="264.3" r="3.3" fill="url(#ballP)"/>
<circle cx="245.16" cy="254.2" r="3.3" fill="url(#ballP)"/>
<circle cx="259.3" cy="241.9" r="3.3" fill="url(#ballP)"/>
<circle cx="273.44" cy="197.2" r="3.3" fill="url(#ballP)"/>
<circle cx="287.58" cy="48.4" r="3.3" fill="url(#ballP)"/>
<circle cx="301.72" cy="104.8" r="3.3" fill="url(#ballP)"/>
<circle cx="315.86" cy="209.3" r="3.3" fill="url(#ballP)"/>
<circle cx="330" cy="251.9" r="3.3" fill="url(#ballP)"/>
<circle cx="344.14" cy="269.9" r="3.3" fill="url(#ballP)"/>
<circle cx="358.28" cy="278.6" r="3.3" fill="url(#ballP)"/>
<circle cx="372.42" cy="283.8" r="3.3" fill="url(#ballP)"/>
<circle cx="386.56" cy="286.8" r="3.3" fill="url(#ballP)"/>
<circle cx="400.7" cy="289.1" r="3.3" fill="url(#ballP)"/>
<circle cx="414.84" cy="290.7" r="3.3" fill="url(#ballP)"/>
<circle cx="428.98" cy="291.8" r="3.3" fill="url(#ballP)"/>
<circle cx="443.12" cy="292.6" r="3.3" fill="url(#ballP)"/>
<clipPath id="cp1"><rect x="56.4" y="442.4" width="202.5" height="326.6"/></clipPath>
<g clip-path="url(#cp1)">
<line x1="130.5" y1="446.3" x2="130.5" y2="769" stroke="#747474" stroke-width="1.6" stroke-dasharray="8 8.6"/>
<line x1="173.3" y1="446.3" x2="173.3" y2="769" stroke="#747474" stroke-width="1.6" stroke-dasharray="8 8.6"/>
<line x1="56.8" y1="640" x2="258.9" y2="640" stroke="#747474" stroke-width="1.6" stroke-dasharray="8.3 8.3"/>
<path d="M66 779 C66.78 777.33 69.22 771.95 70.7 769 C72.18 766.05 73.17 764.78 74.9 761.3 C76.63 757.82 79.03 752.87 81.1 748.1 C83.17 743.33 85.24 737.87 87.3 732.7 C89.36 727.53 91.4 722.27 93.45 717.1 C95.5 711.93 97.54 706.53 99.6 701.7 C101.66 696.87 103.73 692.3 105.8 688.1 C107.87 683.9 109.93 679.8 112 676.5 C114.07 673.2 116.15 670.62 118.2 668.3 C120.25 665.98 122.25 663.85 124.3 662.6 C126.35 661.35 127.08 661.17 130.5 660.8 C133.92 660.43 140.05 660.53 144.8 660.4 C149.55 660.27 154.25 660.13 159 660 C163.75 659.87 169.73 659.55 173.3 659.6 C176.87 659.65 178.02 659.8 180.4 660.3 C182.78 660.8 185.22 661.4 187.6 662.6 C189.98 663.8 192.33 665.32 194.7 667.5 C197.07 669.68 199.42 672.35 201.8 675.7 C204.18 679.05 206.62 682.97 209 687.6 C211.38 692.23 213.73 697.97 216.1 703.5 C218.47 709.03 220.82 714.9 223.2 720.8 C225.58 726.7 228.02 732.98 230.4 738.9 C232.78 744.82 235.2 751.28 237.5 756.3 C239.8 761.32 242.37 765.22 244.2 769 C246.03 772.78 247.78 777.33 248.5 779" stroke="#262626" stroke-width="1.8" fill="none"/>
<path d="M56.4 526.8 C57.43 526.47 60.54 526.5 62.6 524.8 C64.66 523.1 66.7 519.82 68.75 516.6 C70.8 513.38 72.84 509.93 74.9 505.5 C76.96 501.07 79.03 495.53 81.1 490 C83.17 484.47 85.24 477.6 87.3 472.3 C89.36 467 91.4 462.18 93.45 458.2 C95.5 454.22 97.54 450.67 99.6 448.4 C101.66 446.13 103.73 445.37 105.8 444.6 C107.87 443.83 107.88 443.97 112 443.8 C116.12 443.63 120.28 443.5 130.5 443.6 C140.72 443.7 161.38 444.37 173.3 444.4 C185.22 444.43 196.05 443.82 202 443.8 C207.95 443.78 206.65 443.67 209 444.3 C211.35 444.93 213.73 444.87 216.1 447.6 C218.47 450.33 220.82 455.43 223.2 460.7 C225.58 465.97 228.02 472.92 230.4 479.2 C232.78 485.48 235.13 492.65 237.5 498.4 C239.87 504.15 242.22 509.5 244.6 513.7 C246.98 517.9 249.42 521.42 251.8 523.6 C254.18 525.78 257.72 526.27 258.9 526.8" stroke="#262626" stroke-width="1.8" fill="none"/>
<path d="M56.4 460 C57.43 459.8 60.54 459.38 62.6 458.8 C64.66 458.22 66.7 457.5 68.75 456.5 C70.8 455.5 72.84 454.03 74.9 452.8 C76.96 451.57 79.03 450.45 81.1 449.1 C83.17 447.75 85.24 446.38 87.3 444.7 C89.36 443.02 92.42 439.95 93.45 439" stroke="#262626" stroke-width="1.8" fill="none"/>
<path d="M258.9 460 C257.72 459.58 254.18 458.28 251.8 457.5 C249.42 456.72 246.98 456.53 244.6 455.3 C242.22 454.07 239.87 451.67 237.5 450.1 C235.13 448.53 232.78 447.58 230.4 445.9 C228.02 444.22 224.4 440.98 223.2 440" stroke="#262626" stroke-width="1.8" fill="none"/>
<circle cx="62.6" cy="458.8" r="1" fill="#7f00ff"/>
<circle cx="68.75" cy="456.5" r="1.5" fill="#7f00ff"/>
<circle cx="74.9" cy="452.8" r="2.2" fill="#7f00ff"/>
<circle cx="81.1" cy="449.1" r="3.1" fill="#7f00ff"/>
<circle cx="87.3" cy="444.9" r="3.6" fill="#7f00ff"/>
<circle cx="230.4" cy="446.1" r="4.1" fill="#7f00ff"/>
<circle cx="237.6" cy="449.9" r="3.7" fill="#7f00ff"/>
<circle cx="244.8" cy="455.3" r="2.2" fill="#7f00ff"/>
<circle cx="252" cy="457.9" r="1.5" fill="#7f00ff"/>
<path d="M62.6 458 l0.8 0.8 l-0.8 0.8 l-0.8 -0.8 z" fill="#f4a460"/>
<path d="M68.75 455.69 l0.8 0.8 l-0.8 0.8 l-0.8 -0.8 z" fill="#f4a460"/>
<path d="M74.9 451.31 l1.5 1.5 l-1.5 1.5 l-1.5 -1.5 z" fill="#f4a460"/>
<path d="M81.1 446.57 l2.53 2.53 l-2.53 2.53 l-2.53 -2.53 z" fill="#f4a460"/>
<path d="M87.3 441.79 l3.1 3.1 l-3.1 3.1 l-3.1 -3.1 z" fill="#f4a460"/>
<path d="M230.4 442.42 l3.68 3.68 l-3.68 3.68 l-3.68 -3.68 z" fill="#f4a460"/>
<path d="M237.6 446.68 l3.22 3.22 l-3.22 3.22 l-3.22 -3.22 z" fill="#f4a460"/>
<path d="M244.8 453.81 l1.5 1.5 l-1.5 1.5 l-1.5 -1.5 z" fill="#f4a460"/>
<path d="M252 457.09 l0.8 0.8 l-0.8 0.8 l-0.8 -0.8 z" fill="#f4a460"/>
<path d="M62.6 523 l1.8 1.8 l-1.8 1.8 l-1.8 -1.8 z" fill="#f4a460"/>
<path d="M68.75 514.3 l2.3 2.3 l-2.3 2.3 l-2.3 -2.3 z" fill="#f4a460"/>
<path d="M74.9 502.6 l2.9 2.9 l-2.9 2.9 l-2.9 -2.9 z" fill="#f4a460"/>
<path d="M81.1 485.9 l4.1 4.1 l-4.1 4.1 l-4.1 -4.1 z" fill="#f4a460"/>
<path d="M87.3 465 l7.3 7.3 l-7.3 7.3 l-7.3 -7.3 z" fill="#f4a460"/>
<path d="M93.45 450.3 l7.9 7.9 l-7.9 7.9 l-7.9 -7.9 z" fill="#f4a460"/>
<path d="M99.6 438.4 l10 10 l-10 10 l-10 -10 z" fill="#f4a460"/>
<path d="M105.8 437.8 l6.8 6.8 l-6.8 6.8 l-6.8 -6.8 z" fill="#f4a460"/>
<path d="M112 438.7 l5.3 5.3 l-5.3 5.3 l-5.3 -5.3 z" fill="#f4a460"/>
<path d="M118.2 439.8 l4.2 4.2 l-4.2 4.2 l-4.2 -4.2 z" fill="#f4a460"/>
<path d="M124.3 440.5 l3.5 3.5 l-3.5 3.5 l-3.5 -3.5 z" fill="#f4a460"/>
<path d="M180.4 437.7 l6.3 6.3 l-6.3 6.3 l-6.3 -6.3 z" fill="#f4a460"/>
<path d="M187.6 437.5 l6.5 6.5 l-6.5 6.5 l-6.5 -6.5 z" fill="#f4a460"/>
<path d="M194.7 437.5 l6.5 6.5 l-6.5 6.5 l-6.5 -6.5 z" fill="#f4a460"/>
<path d="M201.8 437.5 l6.5 6.5 l-6.5 6.5 l-6.5 -6.5 z" fill="#f4a460"/>
<path d="M209 436.8 l7.5 7.5 l-7.5 7.5 l-7.5 -7.5 z" fill="#f4a460"/>
<path d="M216.1 435.2 l11 11 l-11 11 l-11 -11 z" fill="#f4a460"/>
<path d="M223.3 451.8 l9 9 l-9 9 l-9 -9 z" fill="#f4a460"/>
<path d="M230.5 473.5 l5.9 5.9 l-5.9 5.9 l-5.9 -5.9 z" fill="#f4a460"/>
<path d="M237.7 494.8 l3.4 3.4 l-3.4 3.4 l-3.4 -3.4 z" fill="#f4a460"/>
<path d="M244.8 511.3 l2.4 2.4 l-2.4 2.4 l-2.4 -2.4 z" fill="#f4a460"/>
<path d="M252 521.5 l2 2 l-2 2 l-2 -2 z" fill="#f4a460"/>
<path d="M130.5 440.5 l3.5 3.5 l-3.5 3.5 l-3.5 -3.5 z" fill="#f4a460"/>
<path d="M132.28 440.42 l3.58 3.58 l-3.58 3.58 l-3.58 -3.58 z" fill="#f4a460"/>
<path d="M134.07 440.34 l3.66 3.66 l-3.66 3.66 l-3.66 -3.66 z" fill="#f4a460"/>
<path d="M135.85 440.26 l3.74 3.74 l-3.74 3.74 l-3.74 -3.74 z" fill="#f4a460"/>
<path d="M137.63 440.18 l3.82 3.82 l-3.82 3.82 l-3.82 -3.82 z" fill="#f4a460"/>
<path d="M139.42 440.1 l3.9 3.9 l-3.9 3.9 l-3.9 -3.9 z" fill="#f4a460"/>
<path d="M141.2 440.02 l3.98 3.98 l-3.98 3.98 l-3.98 -3.98 z" fill="#f4a460"/>
<path d="M142.98 439.95 l4.05 4.05 l-4.05 4.05 l-4.05 -4.05 z" fill="#f4a460"/>
<path d="M144.77 439.87 l4.13 4.13 l-4.13 4.13 l-4.13 -4.13 z" fill="#f4a460"/>
<path d="M146.55 439.79 l4.21 4.21 l-4.21 4.21 l-4.21 -4.21 z" fill="#f4a460"/>
<path d="M148.33 439.71 l4.29 4.29 l-4.29 4.29 l-4.29 -4.29 z" fill="#f4a460"/>
<path d="M150.12 439.63 l4.37 4.37 l-4.37 4.37 l-4.37 -4.37 z" fill="#f4a460"/>
<path d="M151.9 439.55 l4.45 4.45 l-4.45 4.45 l-4.45 -4.45 z" fill="#f4a460"/>
<path d="M153.68 439.47 l4.53 4.53 l-4.53 4.53 l-4.53 -4.53 z" fill="#f4a460"/>
<path d="M155.47 439.39 l4.61 4.61 l-4.61 4.61 l-4.61 -4.61 z" fill="#f4a460"/>
<path d="M157.25 439.31 l4.69 4.69 l-4.69 4.69 l-4.69 -4.69 z" fill="#f4a460"/>
<path d="M159.03 439.23 l4.77 4.77 l-4.77 4.77 l-4.77 -4.77 z" fill="#f4a460"/>
<path d="M160.82 439.15 l4.85 4.85 l-4.85 4.85 l-4.85 -4.85 z" fill="#f4a460"/>
<path d="M162.6 439.07 l4.92 4.92 l-4.92 4.92 l-4.92 -4.92 z" fill="#f4a460"/>
<path d="M164.38 439 l5 5 l-5 5 l-5 -5 z" fill="#f4a460"/>
<path d="M166.17 438.92 l5.08 5.08 l-5.08 5.08 l-5.08 -5.08 z" fill="#f4a460"/>
<path d="M167.95 438.84 l5.16 5.16 l-5.16 5.16 l-5.16 -5.16 z" fill="#f4a460"/>
<path d="M169.73 438.76 l5.24 5.24 l-5.24 5.24 l-5.24 -5.24 z" fill="#f4a460"/>
<path d="M171.52 438.68 l5.32 5.32 l-5.32 5.32 l-5.32 -5.32 z" fill="#f4a460"/>
<path d="M173.3 438.6 l5.4 5.4 l-5.4 5.4 l-5.4 -5.4 z" fill="#f4a460"/>
<circle cx="130.5" cy="660.8" r="2.3" fill="#7f00ff"/>
<circle cx="134.07" cy="660.7" r="2.62" fill="#7f00ff"/>
<circle cx="137.63" cy="660.6" r="2.95" fill="#7f00ff"/>
<circle cx="141.2" cy="660.5" r="3.27" fill="#7f00ff"/>
<circle cx="144.77" cy="660.4" r="3.6" fill="#7f00ff"/>
<circle cx="148.33" cy="660.3" r="3.92" fill="#7f00ff"/>
<circle cx="151.9" cy="660.2" r="4.25" fill="#7f00ff"/>
<circle cx="155.47" cy="660.1" r="4.58" fill="#7f00ff"/>
<circle cx="159.03" cy="660" r="4.9" fill="#7f00ff"/>
<circle cx="162.6" cy="659.9" r="5.22" fill="#7f00ff"/>
<circle cx="166.17" cy="659.8" r="5.55" fill="#7f00ff"/>
<circle cx="169.73" cy="659.7" r="5.88" fill="#7f00ff"/>
<circle cx="173.3" cy="659.6" r="6.2" fill="#7f00ff"/>
<circle cx="180.4" cy="660.3" r="5.2" fill="#7f00ff" opacity="1"/>
<circle cx="187.6" cy="662.6" r="4.5" fill="#7f00ff" opacity="1"/>
<circle cx="194.7" cy="667.5" r="3.9" fill="#7f00ff" opacity="1"/>
<circle cx="201.8" cy="675.7" r="3.2" fill="#7f00ff" opacity="1"/>
<circle cx="209" cy="687.6" r="2.2" fill="#7f00ff" opacity="1"/>
<circle cx="216.1" cy="703.5" r="1.2" fill="#7f00ff" opacity="1"/>
<circle cx="124.3" cy="662.6" r="2.3" fill="#7f00ff" opacity="0.55"/>
<circle cx="118.2" cy="668.3" r="2.1" fill="#7f00ff" opacity="0.55"/>
<circle cx="112" cy="676.5" r="1.7" fill="#7f00ff" opacity="0.55"/>
<path d="M130.5 658.7 l2.1 2.1 l-2.1 2.1 l-2.1 -2.1 z" fill="#f4a460"/>
<path d="M132.28 658.53 l2.22 2.22 l-2.22 2.22 l-2.22 -2.22 z" fill="#f4a460"/>
<path d="M134.07 658.36 l2.34 2.34 l-2.34 2.34 l-2.34 -2.34 z" fill="#f4a460"/>
<path d="M135.85 658.19 l2.46 2.46 l-2.46 2.46 l-2.46 -2.46 z" fill="#f4a460"/>
<path d="M137.63 658.02 l2.58 2.58 l-2.58 2.58 l-2.58 -2.58 z" fill="#f4a460"/>
<path d="M139.42 657.85 l2.7 2.7 l-2.7 2.7 l-2.7 -2.7 z" fill="#f4a460"/>
<path d="M141.2 657.67 l2.83 2.83 l-2.83 2.83 l-2.83 -2.83 z" fill="#f4a460"/>
<path d="M142.98 657.5 l2.95 2.95 l-2.95 2.95 l-2.95 -2.95 z" fill="#f4a460"/>
<path d="M144.77 657.33 l3.07 3.07 l-3.07 3.07 l-3.07 -3.07 z" fill="#f4a460"/>
<path d="M146.55 657.16 l3.19 3.19 l-3.19 3.19 l-3.19 -3.19 z" fill="#f4a460"/>
<path d="M148.33 656.99 l3.31 3.31 l-3.31 3.31 l-3.31 -3.31 z" fill="#f4a460"/>
<path d="M150.12 656.82 l3.43 3.43 l-3.43 3.43 l-3.43 -3.43 z" fill="#f4a460"/>
<path d="M151.9 656.65 l3.55 3.55 l-3.55 3.55 l-3.55 -3.55 z" fill="#f4a460"/>
<path d="M153.68 656.48 l3.67 3.67 l-3.67 3.67 l-3.67 -3.67 z" fill="#f4a460"/>
<path d="M155.47 656.31 l3.79 3.79 l-3.79 3.79 l-3.79 -3.79 z" fill="#f4a460"/>
<path d="M157.25 656.14 l3.91 3.91 l-3.91 3.91 l-3.91 -3.91 z" fill="#f4a460"/>
<path d="M159.03 655.97 l4.03 4.03 l-4.03 4.03 l-4.03 -4.03 z" fill="#f4a460"/>
<path d="M160.82 655.8 l4.15 4.15 l-4.15 4.15 l-4.15 -4.15 z" fill="#f4a460"/>
<path d="M162.6 655.62 l4.28 4.28 l-4.28 4.28 l-4.28 -4.28 z" fill="#f4a460"/>
<path d="M164.38 655.45 l4.4 4.4 l-4.4 4.4 l-4.4 -4.4 z" fill="#f4a460"/>
<path d="M166.17 655.28 l4.52 4.52 l-4.52 4.52 l-4.52 -4.52 z" fill="#f4a460"/>
<path d="M167.95 655.11 l4.64 4.64 l-4.64 4.64 l-4.64 -4.64 z" fill="#f4a460"/>
<path d="M169.73 654.94 l4.76 4.76 l-4.76 4.76 l-4.76 -4.76 z" fill="#f4a460"/>
<path d="M171.52 654.77 l4.88 4.88 l-4.88 4.88 l-4.88 -4.88 z" fill="#f4a460"/>
<path d="M173.3 654.6 l5 5 l-5 5 l-5 -5 z" fill="#f4a460"/>
<path d="M180.4 655.5 l4.8 4.8 l-4.8 4.8 l-4.8 -4.8 z" fill="#f4a460"/>
<path d="M187.6 658.4 l4.2 4.2 l-4.2 4.2 l-4.2 -4.2 z" fill="#f4a460"/>
<path d="M194.7 663.9 l3.6 3.6 l-3.6 3.6 l-3.6 -3.6 z" fill="#f4a460"/>
<path d="M201.8 672.8 l2.9 2.9 l-2.9 2.9 l-2.9 -2.9 z" fill="#f4a460"/>
<path d="M209 685.6 l2 2 l-2 2 l-2 -2 z" fill="#f4a460"/>
<path d="M216.1 702.5 l1 1 l-1 1 l-1 -1 z" fill="#f4a460"/>
<path d="M124.3 660.6 l2 2 l-2 2 l-2 -2 z" fill="#f4a460"/>
<path d="M118.2 666.4 l1.9 1.9 l-1.9 1.9 l-1.9 -1.9 z" fill="#f4a460"/>
<path d="M112 674.9 l1.6 1.6 l-1.6 1.6 l-1.6 -1.6 z" fill="#f4a460"/>
<circle cx="74.9" cy="761.3" r="1.05" fill="#30f010"/>
<circle cx="81.1" cy="748.1" r="1.05" fill="#30f010"/>
<circle cx="87.3" cy="732.7" r="1.05" fill="#30f010"/>
<circle cx="93.45" cy="717.1" r="1.05" fill="#30f010"/>
<circle cx="99.6" cy="701.7" r="1.05" fill="#30f010"/>
<circle cx="105.8" cy="688.1" r="0.75" fill="#55e628" opacity="0.9"/>
<circle cx="112" cy="676.5" r="0.75" fill="#55e628" opacity="0.9"/>
<circle cx="118.2" cy="668.3" r="0.75" fill="#55e628" opacity="0.9"/>
<circle cx="124.3" cy="662.6" r="0.75" fill="#55e628" opacity="0.9"/>
<circle cx="130.5" cy="660.8" r="0.75" fill="#55e628" opacity="0.9"/>
<circle cx="134.07" cy="660.7" r="0.75" fill="#55e628" opacity="0.9"/>
<circle cx="137.63" cy="660.6" r="0.75" fill="#55e628" opacity="0.9"/>
<circle cx="141.2" cy="660.5" r="0.75" fill="#55e628" opacity="0.9"/>
<circle cx="144.77" cy="660.4" r="0.75" fill="#55e628" opacity="0.9"/>
<circle cx="148.33" cy="660.3" r="0.75" fill="#55e628" opacity="0.9"/>
<circle cx="151.9" cy="660.2" r="0.75" fill="#55e628" opacity="0.9"/>
<circle cx="155.47" cy="660.1" r="0.75" fill="#55e628" opacity="0.9"/>
<circle cx="159.03" cy="660" r="0.75" fill="#55e628" opacity="0.9"/>
<circle cx="162.6" cy="659.9" r="0.75" fill="#55e628" opacity="0.9"/>
<circle cx="166.17" cy="659.8" r="0.75" fill="#55e628" opacity="0.9"/>
<circle cx="169.73" cy="659.7" r="0.75" fill="#55e628" opacity="0.9"/>
<circle cx="173.3" cy="659.6" r="0.75" fill="#55e628" opacity="0.9"/>
<circle cx="180.4" cy="660.3" r="0.75" fill="#55e628" opacity="0.9"/>
<circle cx="187.6" cy="662.6" r="0.75" fill="#55e628" opacity="0.9"/>
<circle cx="194.7" cy="667.5" r="0.75" fill="#55e628" opacity="0.9"/>
<circle cx="201.8" cy="675.7" r="0.75" fill="#55e628" opacity="0.9"/>
<circle cx="209" cy="687.6" r="0.75" fill="#55e628" opacity="0.9"/>
<circle cx="216.1" cy="703.5" r="1.05" fill="#30f010"/>
<circle cx="223.2" cy="720.8" r="1.05" fill="#30f010"/>
<circle cx="230.4" cy="738.9" r="1.05" fill="#30f010"/>
<circle cx="237.5" cy="756.3" r="1.05" fill="#30f010"/>
<circle cx="68.75" cy="516.6" r="0.75" fill="#55e628" opacity="0.9"/>
<circle cx="74.9" cy="505.5" r="0.75" fill="#55e628" opacity="0.9"/>
<circle cx="81.1" cy="490" r="0.75" fill="#55e628" opacity="0.9"/>
<circle cx="87.3" cy="472.3" r="0.75" fill="#55e628" opacity="0.9"/>
<circle cx="93.45" cy="458.2" r="0.75" fill="#55e628" opacity="0.9"/>
<circle cx="99.6" cy="448.4" r="0.75" fill="#55e628" opacity="0.9"/>
<circle cx="105.8" cy="444.8" r="0.75" fill="#55e628" opacity="0.9"/>
<circle cx="216.1" cy="447.6" r="0.75" fill="#55e628" opacity="0.9"/>
<circle cx="223.2" cy="460.7" r="0.75" fill="#55e628" opacity="0.9"/>
<circle cx="230.4" cy="479.2" r="0.75" fill="#55e628" opacity="0.9"/>
<circle cx="237.5" cy="498.4" r="0.75" fill="#55e628" opacity="0.9"/>
<circle cx="244.6" cy="513.7" r="0.75" fill="#55e628" opacity="0.9"/>
<ellipse cx="130.8" cy="769.8" rx="13.5" ry="3" fill="#7f00ff"/>
</g>
<rect x="56.4" y="442.4" width="202.5" height="326.6" fill="none" stroke="#1c1c1c" stroke-width="1.6"/>
<clipPath id="cp2"><rect x="271.1" y="442.4" width="203" height="326.6"/></clipPath>
<g clip-path="url(#cp2)">
<line x1="345.6" y1="446.3" x2="345.6" y2="769" stroke="#747474" stroke-width="1.6" stroke-dasharray="8 8.6"/>
<line x1="388.3" y1="446.3" x2="388.3" y2="769" stroke="#747474" stroke-width="1.6" stroke-dasharray="8 8.6"/>
<line x1="271.5" y1="640" x2="474.1" y2="640" stroke="#747474" stroke-width="1.6" stroke-dasharray="8.3 8.3"/>
<path d="M271.1 618.6 C272.13 618.18 275.23 617.53 277.3 616.1 C279.37 614.67 281.43 612.88 283.5 610 C285.57 607.12 287.63 603.13 289.7 598.8 C291.77 594.47 293.83 589.22 295.9 584 C297.97 578.78 300.03 573.37 302.1 567.5 C304.17 561.63 306.22 554.97 308.3 548.8 C310.38 542.63 312.52 536.43 314.6 530.5 C316.68 524.57 318.73 518.67 320.8 513.2 C322.87 507.73 324.93 502.25 327 497.7 C329.07 493.15 331.13 489.2 333.2 485.9 C335.27 482.6 337.33 479.67 339.4 477.9 C341.47 476.13 342.2 475.88 345.6 475.3 C349 474.72 355.07 474.7 359.8 474.4 C364.53 474.1 369.25 473.8 374 473.5 C378.75 473.2 384.72 472.68 388.3 472.6 C391.88 472.52 393.12 472.32 395.5 473 C397.88 473.68 400.22 474.85 402.6 476.7 C404.98 478.55 407.42 480.88 409.8 484.1 C412.18 487.32 414.52 491.27 416.9 496 C419.28 500.73 421.72 506.47 424.1 512.5 C426.48 518.53 428.82 525.42 431.2 532.2 C433.58 538.98 436.02 546.33 438.4 553.2 C440.78 560.07 443.12 566.9 445.5 573.4 C447.88 579.9 450.32 586.73 452.7 592.2 C455.08 597.67 457.42 602.42 459.8 606.2 C462.18 609.98 464.62 612.83 467 614.9 C469.38 616.97 472.92 617.98 474.1 618.6" stroke="#ff2020" stroke-width="1.65" fill="none"/>
<path d="M271.1 489.1 C272.13 488.83 275.23 488.95 277.3 487.5 C279.37 486.05 281.43 483.22 283.5 480.4 C285.57 477.58 287.63 474.5 289.7 470.6 C291.77 466.7 293.83 461.93 295.9 457 C297.97 452.07 300.42 445.5 302.1 441 C303.78 436.5 305.35 431.83 306 430" stroke="#ff2020" stroke-width="1.65" fill="none"/>
<path d="M474.1 489.1 C472.92 488.48 469.38 487.67 467 485.4 C464.62 483.13 462.18 479.42 459.8 475.5 C457.42 471.58 455.08 466.83 452.7 461.9 C450.32 456.97 447.37 450.22 445.5 445.9 C443.63 441.58 442.17 437.65 441.5 436" stroke="#ff2020" stroke-width="1.65" fill="none"/>
<circle cx="374.07" cy="473.2" r="5.13" fill="#7f00ff"/>
<circle cx="377.62" cy="472.98" r="5.17" fill="#7f00ff"/>
<circle cx="381.18" cy="472.75" r="5.22" fill="#7f00ff"/>
<circle cx="384.74" cy="472.53" r="5.27" fill="#7f00ff"/>
<circle cx="388.3" cy="472.3" r="5.31" fill="#7f00ff"/>
<circle cx="395.4" cy="473" r="4.93" fill="#7f00ff"/>
<circle cx="402.6" cy="476.6" r="4.58" fill="#7f00ff"/>
<circle cx="409.7" cy="483.8" r="3.96" fill="#7f00ff"/>
<circle cx="416.8" cy="495.9" r="3.17" fill="#7f00ff"/>
<circle cx="424" cy="512.2" r="2.2" fill="#7f00ff"/>
<circle cx="431.2" cy="532.2" r="1.23" fill="#7f00ff"/>
<circle cx="339.3" cy="477.9" r="4.4" fill="#7f00ff" opacity="0.25"/>
<circle cx="333.1" cy="485.8" r="4" fill="#7f00ff" opacity="0.25"/>
<circle cx="326.9" cy="497.7" r="3.1" fill="#7f00ff" opacity="0.25"/>
<circle cx="320.7" cy="513.2" r="2.4" fill="#7f00ff" opacity="0.25"/>
<path d="M345.6 470 l5.3 5.3 l-5.3 5.3 l-5.3 -5.3 z" fill="#f4a460"/>
<path d="M347.38 469.86 l5.33 5.33 l-5.33 5.33 l-5.33 -5.33 z" fill="#f4a460"/>
<path d="M349.16 469.72 l5.35 5.35 l-5.35 5.35 l-5.35 -5.35 z" fill="#f4a460"/>
<path d="M350.94 469.59 l5.38 5.38 l-5.38 5.38 l-5.38 -5.38 z" fill="#f4a460"/>
<path d="M352.72 469.45 l5.4 5.4 l-5.4 5.4 l-5.4 -5.4 z" fill="#f4a460"/>
<path d="M354.5 469.31 l5.42 5.42 l-5.42 5.42 l-5.42 -5.42 z" fill="#f4a460"/>
<path d="M356.28 469.18 l5.45 5.45 l-5.45 5.45 l-5.45 -5.45 z" fill="#f4a460"/>
<path d="M358.05 469.04 l5.47 5.47 l-5.47 5.47 l-5.47 -5.47 z" fill="#f4a460"/>
<path d="M359.83 468.9 l5.5 5.5 l-5.5 5.5 l-5.5 -5.5 z" fill="#f4a460"/>
<path d="M361.61 468.76 l5.53 5.53 l-5.53 5.53 l-5.53 -5.53 z" fill="#f4a460"/>
<path d="M363.39 468.62 l5.55 5.55 l-5.55 5.55 l-5.55 -5.55 z" fill="#f4a460"/>
<path d="M365.17 468.49 l5.58 5.58 l-5.58 5.58 l-5.58 -5.58 z" fill="#f4a460"/>
<path d="M366.95 468.35 l5.6 5.6 l-5.6 5.6 l-5.6 -5.6 z" fill="#f4a460"/>
<path d="M368.73 468.21 l5.62 5.62 l-5.62 5.62 l-5.62 -5.62 z" fill="#f4a460"/>
<path d="M370.51 468.08 l5.65 5.65 l-5.65 5.65 l-5.65 -5.65 z" fill="#f4a460"/>
<path d="M372.29 467.94 l5.67 5.67 l-5.67 5.67 l-5.67 -5.67 z" fill="#f4a460"/>
<path d="M374.07 467.8 l5.7 5.7 l-5.7 5.7 l-5.7 -5.7 z" fill="#f4a460"/>
<path d="M375.85 467.66 l5.73 5.73 l-5.73 5.73 l-5.73 -5.73 z" fill="#f4a460"/>
<path d="M377.62 467.53 l5.75 5.75 l-5.75 5.75 l-5.75 -5.75 z" fill="#f4a460"/>
<path d="M379.4 467.39 l5.78 5.78 l-5.78 5.78 l-5.78 -5.78 z" fill="#f4a460"/>
<path d="M381.18 467.25 l5.8 5.8 l-5.8 5.8 l-5.8 -5.8 z" fill="#f4a460"/>
<path d="M382.96 467.11 l5.83 5.83 l-5.83 5.83 l-5.83 -5.83 z" fill="#f4a460"/>
<path d="M384.74 466.98 l5.85 5.85 l-5.85 5.85 l-5.85 -5.85 z" fill="#f4a460"/>
<path d="M386.52 466.84 l5.88 5.88 l-5.88 5.88 l-5.88 -5.88 z" fill="#f4a460"/>
<path d="M388.3 466.7 l5.9 5.9 l-5.9 5.9 l-5.9 -5.9 z" fill="#f4a460"/>
<path d="M395.4 467.4 l5.6 5.6 l-5.6 5.6 l-5.6 -5.6 z" fill="#f4a460"/>
<path d="M402.6 471.4 l5.2 5.2 l-5.2 5.2 l-5.2 -5.2 z" fill="#f4a460"/>
<path d="M409.7 479.3 l4.5 4.5 l-4.5 4.5 l-4.5 -4.5 z" fill="#f4a460"/>
<path d="M416.8 492.3 l3.6 3.6 l-3.6 3.6 l-3.6 -3.6 z" fill="#f4a460"/>
<path d="M424 509.7 l2.5 2.5 l-2.5 2.5 l-2.5 -2.5 z" fill="#f4a460"/>
<path d="M431.2 530.8 l1.4 1.4 l-1.4 1.4 l-1.4 -1.4 z" fill="#f4a460"/>
<path d="M339.3 473.5 l4.4 4.4 l-4.4 4.4 l-4.4 -4.4 z" fill="#f4a460"/>
<path d="M333.1 481.8 l4 4 l-4 4 l-4 -4 z" fill="#f4a460"/>
<path d="M326.9 494.6 l3.1 3.1 l-3.1 3.1 l-3.1 -3.1 z" fill="#f4a460"/>
<path d="M320.7 510.8 l2.4 2.4 l-2.4 2.4 l-2.4 -2.4 z" fill="#f4a460"/>
<circle cx="395.4" cy="473" r="1.05" fill="#40e020"/>
<circle cx="402.6" cy="476.6" r="1.05" fill="#40e020"/>
<circle cx="409.7" cy="483.8" r="1.05" fill="#40e020"/>
<circle cx="416.8" cy="495.9" r="1.05" fill="#40e020"/>
<circle cx="424" cy="512.2" r="1.05" fill="#40e020"/>
<circle cx="339.3" cy="477.9" r="1.05" fill="#40e020"/>
<circle cx="333.1" cy="485.8" r="1.05" fill="#40e020"/>
<circle cx="326.9" cy="497.7" r="1.05" fill="#40e020"/>
<circle cx="320.7" cy="513.2" r="1.05" fill="#40e020"/>
<circle cx="345.6" cy="475.3" r="0.7" fill="#7fe040" opacity="0.9"/>
<circle cx="349.16" cy="475.07" r="0.7" fill="#7fe040" opacity="0.9"/>
<circle cx="352.72" cy="474.85" r="0.7" fill="#7fe040" opacity="0.9"/>
<circle cx="356.28" cy="474.62" r="0.7" fill="#7fe040" opacity="0.9"/>
<circle cx="359.83" cy="474.4" r="0.7" fill="#7fe040" opacity="0.9"/>
<circle cx="363.39" cy="474.18" r="0.7" fill="#7fe040" opacity="0.9"/>
<circle cx="366.95" cy="473.95" r="0.7" fill="#7fe040" opacity="0.9"/>
<circle cx="370.51" cy="473.73" r="0.7" fill="#7fe040" opacity="0.9"/>
<circle cx="374.07" cy="473.5" r="0.7" fill="#7fe040" opacity="0.9"/>
<circle cx="377.62" cy="473.28" r="0.7" fill="#7fe040" opacity="0.9"/>
<circle cx="381.18" cy="473.05" r="0.7" fill="#7fe040" opacity="0.9"/>
<circle cx="384.74" cy="472.83" r="0.7" fill="#7fe040" opacity="0.9"/>
<circle cx="388.3" cy="472.6" r="0.7" fill="#7fe040" opacity="0.9"/>
<circle cx="277.3" cy="616.1" r="1.05" fill="#30f010"/>
<circle cx="283.5" cy="610" r="1.05" fill="#30f010"/>
<circle cx="289.7" cy="598.8" r="1.05" fill="#30f010"/>
<circle cx="295.9" cy="584" r="1.05" fill="#30f010"/>
<circle cx="302.1" cy="567.5" r="1.05" fill="#30f010"/>
<circle cx="308.3" cy="548.8" r="1.05" fill="#30f010"/>
<circle cx="314.6" cy="530.5" r="1.05" fill="#30f010"/>
<circle cx="431.2" cy="532.2" r="1.05" fill="#30f010"/>
<circle cx="438.4" cy="553.2" r="1.05" fill="#30f010"/>
<circle cx="445.5" cy="573.4" r="1.05" fill="#30f010"/>
<circle cx="452.7" cy="592.2" r="1.05" fill="#30f010"/>
<circle cx="459.8" cy="606.2" r="1.05" fill="#30f010"/>
<circle cx="467" cy="614.9" r="1.05" fill="#30f010"/>
<circle cx="277.3" cy="487.5" r="0.6" fill="#b8d040" opacity="0.8"/>
<circle cx="283.5" cy="480.4" r="0.6" fill="#b8d040" opacity="0.8"/>
<circle cx="289.7" cy="470.6" r="0.6" fill="#b8d040" opacity="0.8"/>
<circle cx="295.9" cy="457" r="0.6" fill="#b8d040" opacity="0.8"/>
<circle cx="467" cy="485.4" r="0.6" fill="#b8d040" opacity="0.8"/>
<circle cx="459.8" cy="475.5" r="0.6" fill="#b8d040" opacity="0.8"/>
<circle cx="452.7" cy="461.9" r="0.6" fill="#b8d040" opacity="0.8"/>
<circle cx="445.5" cy="445.9" r="0.6" fill="#b8d040" opacity="0.8"/>
</g>
<rect x="271.1" y="442.4" width="203" height="326.6" fill="none" stroke="#1c1c1c" stroke-width="1.6"/>
<text x="48.6" y="452.8" font-family="Liberation Serif" font-size="18.8" font-weight="bold" fill="#111" text-anchor="end" >3</text>
<text x="48.6" y="517.3" font-family="Liberation Serif" font-size="18.8" font-weight="bold" fill="#111" text-anchor="end" >2</text>
<text x="48.6" y="581.8" font-family="Liberation Serif" font-size="18.8" font-weight="bold" fill="#111" text-anchor="end" >1</text>
<text x="48.6" y="646.3" font-family="Liberation Serif" font-size="18.8" font-weight="bold" fill="#111" text-anchor="end" >0</text>
<text x="48.6" y="710.8" font-family="Liberation Serif" font-size="18.8" font-weight="bold" fill="#111" text-anchor="end" >&#8722;1</text>
<text x="48.6" y="775.3" font-family="Liberation Serif" font-size="18.8" font-weight="bold" fill="#111" text-anchor="end" >&#8722;2</text>
<text x="56.8" y="786.5" font-family="Liberation Serif" font-size="19.8" font-weight="bold" fill="#111" text-anchor="middle" textLength="10.6" lengthAdjust="spacingAndGlyphs" >&#915;</text>
<text x="130.5" y="786.5" font-family="Liberation Serif" font-size="19.8" font-weight="bold" fill="#111" text-anchor="middle" textLength="16" lengthAdjust="spacingAndGlyphs" >M</text>
<text x="173.3" y="786.5" font-family="Liberation Serif" font-size="19.8" font-weight="bold" fill="#111" text-anchor="middle" textLength="14" lengthAdjust="spacingAndGlyphs" >K</text>
<text x="265.8" y="786.5" font-family="Liberation Serif" font-size="19.8" font-weight="bold" fill="#111" text-anchor="middle" textLength="10.6" lengthAdjust="spacingAndGlyphs" >&#915;</text>
<text x="345.6" y="786.5" font-family="Liberation Serif" font-size="19.8" font-weight="bold" fill="#111" text-anchor="middle" textLength="16" lengthAdjust="spacingAndGlyphs" >M</text>
<text x="388.3" y="786.5" font-family="Liberation Serif" font-size="19.8" font-weight="bold" fill="#111" text-anchor="middle" textLength="14" lengthAdjust="spacingAndGlyphs" >K</text>
<text x="474.5" y="786.5" font-family="Liberation Serif" font-size="19.8" font-weight="bold" fill="#111" text-anchor="middle" textLength="10.6" lengthAdjust="spacingAndGlyphs" >&#915;</text>
<text x="0" y="0" font-family="Liberation Serif" font-size="27" font-weight="bold" fill="#111" text-anchor="start" textLength="137" lengthAdjust="spacingAndGlyphs" transform="translate(27.6 670.4) rotate(-90)" >Energy (eV)</text>
<text x="197.9" y="631.8" font-family="Liberation Serif" font-size="17.6" font-weight="bold" fill="#222" text-anchor="start" textLength="57.5" lengthAdjust="spacingAndGlyphs" >spin up</text>
<text x="276.1" y="663.3" font-family="Liberation Serif" font-size="17.6" font-weight="bold" fill="#222" text-anchor="start" textLength="79.4" lengthAdjust="spacingAndGlyphs" >spin down</text>
<circle cx="399.1" cy="679.3" r="4.6" fill="url(#ballP)"/>
<path d="M398.9 697.1 l5.4 5.4 l-5.4 5.4 l-5.4 -5.4 z" fill="#f4a460"/>
<circle cx="399.1" cy="725.6" r="4.6" fill="url(#ballG)"/>
<text x="424.9" y="685.1" font-family="Liberation Serif" font-size="18.4" font-weight="bold" fill="#111" textLength="42.3" lengthAdjust="spacingAndGlyphs">Ti1-<tspan font-style="italic">d</tspan></text>
<text x="424.9" y="708.4" font-family="Liberation Serif" font-size="18.4" font-weight="bold" fill="#111" textLength="42.3" lengthAdjust="spacingAndGlyphs">Ti2-<tspan font-style="italic">d</tspan></text>
<text x="424.9" y="731.5" font-family="Liberation Serif" font-size="18.4" font-weight="bold" fill="#111" textLength="26.3" lengthAdjust="spacingAndGlyphs">F-<tspan font-style="italic">p</tspan></text>
<path d="M908.9 61.1 C909.62 61.26 912.93 61.81 914.3 62.3 C915.67 62.79 918 64.15 919.2 64.8 C920.4 65.45 922.21 66.92 923.3 67.2 C924.39 67.48 926.31 66.35 927.4 66.9 C928.49 67.45 930.41 70.17 931.5 71.3 C932.59 72.43 934.61 75.4 935.6 75.4 C936.59 75.4 937.91 72.94 938.9 71.3 C939.89 69.66 941.69 64.85 943 63.1 C944.31 61.35 947.07 59.33 948.7 58.2 C950.33 57.07 953.67 54.81 955.2 54.6 C956.73 54.39 958.88 55.68 960.2 56.6 C961.52 57.52 963.58 59.75 965.1 61.5 C966.62 63.25 970.61 67.85 971.6 69.7 C972.59 71.55 971.83 74.53 972.5 75.4 C973.17 76.27 975.29 75.44 976.6 76.2 C977.91 76.96 981.43 80.81 982.3 81.1 C983.17 81.39 982.77 78.51 983.1 78.4 C983.43 78.29 983.92 79.71 984.8 80.3 C985.68 80.89 988.83 82.69 989.7 82.8 C990.57 82.91 990.54 80.73 991.3 81.1 C992.06 81.47 994.41 85.65 995.4 85.6 C996.39 85.55 997.61 81.35 998.7 80.7 C999.79 80.05 1002.51 80.31 1003.6 80.7 C1004.69 81.09 1005.91 83.17 1006.9 83.6 C1007.89 84.03 1009.91 83.69 1011 83.9 C1012.09 84.11 1014.11 85.2 1015.1 85.2 C1016.09 85.2 1017.53 84.07 1018.4 83.9 C1019.27 83.73 1020.51 84.33 1021.6 83.9 C1022.69 83.47 1025.28 81.22 1026.6 80.7 C1027.92 80.18 1030.41 79.79 1031.5 80 C1032.59 80.21 1033.93 82.33 1034.8 82.3 C1035.67 82.27 1036.8 79.63 1038 79.8 C1039.2 79.97 1042.27 82.75 1043.8 83.6 C1045.33 84.45 1048.3 86.15 1049.5 86.2 C1050.7 86.25 1052.04 85 1052.8 84 C1053.56 83 1054.53 80.5 1055.2 78.7 C1055.87 76.9 1057.08 72.65 1057.8 70.5 C1058.52 68.35 1059.83 63.31 1060.6 62.6 C1061.37 61.89 1062.95 63.41 1063.6 65.2 C1064.25 66.99 1065.07 72.43 1065.5 76 C1065.93 79.57 1066.47 87.92 1066.8 92 C1067.13 96.08 1067.63 104.11 1068 106.6 C1068.37 109.09 1068.99 110.65 1069.6 110.7 C1070.21 110.75 1071.88 107.52 1072.6 107 C1073.32 106.48 1074.25 106.45 1075 106.8 C1075.75 107.15 1077.31 108.64 1078.2 109.6 C1079.09 110.56 1080.49 111.15 1081.7 114 C1082.91 116.85 1085.67 126 1087.3 131 C1088.93 136 1092.66 148.41 1093.9 151.5 C1095.14 154.59 1095.69 151.84 1096.6 154.2 C1097.51 156.56 1099.43 165.4 1100.7 169.2 C1101.97 173 1104.66 179.45 1106.1 182.7 C1107.54 185.95 1110.23 190.16 1111.5 193.6 C1112.77 197.04 1114.51 204.71 1115.6 208.5 C1116.69 212.29 1118.62 218.75 1119.7 222 C1120.78 225.25 1122.07 230.37 1123.7 232.9 C1125.33 235.43 1129.91 238.29 1131.9 241 C1133.89 243.71 1136.61 250.01 1138.6 253.2 C1140.59 256.39 1145.17 263.27 1146.8 264.9 C1148.43 266.53 1149.36 264.61 1150.8 265.4 C1152.24 266.19 1156.61 269.71 1157.6 270.8 C1158.59 271.89 1158.01 273.96 1158.2 273.6 C1158.39 273.24 1158.17 268.39 1159 268.1 C1159.83 267.81 1162.23 269.95 1164.4 271.4 C1166.57 272.85 1172.95 278.17 1175.3 279 C1177.65 279.83 1180.01 278.21 1182 277.6 C1183.99 276.99 1188.21 275.01 1190.2 274.4 C1192.19 273.79 1194.91 273.91 1196.9 273 C1198.89 272.09 1203.1 269.33 1205.1 267.6 C1207.1 265.87 1209.91 262.45 1211.9 260 C1213.89 257.55 1217.84 252.09 1220 249.2 C1222.16 246.31 1226.29 240.37 1228.1 238.3 C1229.91 236.23 1232.33 234.53 1233.6 233.7 C1234.87 232.87 1236.16 233.47 1237.6 232.1 C1239.04 230.73 1242.77 225 1244.4 223.4 C1246.03 221.8 1248.53 220.65 1249.8 220.1 C1251.07 219.55 1253.17 219.83 1253.9 219.3 C1254.63 218.77 1254.94 216.1 1255.3 216.1 C1255.66 216.1 1255.88 218.43 1256.6 219.3 C1257.32 220.17 1259.43 222.35 1260.7 222.6 C1261.97 222.85 1264.66 221.71 1266.1 221.2 C1267.54 220.69 1270.23 219.59 1271.5 218.8 C1272.77 218.01 1275.05 215.77 1275.6 215.3" stroke="#000" stroke-width="2.2" fill="none" stroke-linejoin="round" stroke-linecap="round"/>
<rect x="908.9" y="16.6" width="366.9" height="294.9" fill="none" stroke="#222" stroke-width="1.4"/>
<text x="901.8" y="22.7" font-family="Liberation Serif" font-size="18.4" font-weight="bold" fill="#000" text-anchor="end" textLength="18.6" lengthAdjust="spacingAndGlyphs" >35</text>
<text x="901.8" y="76.6" font-family="Liberation Serif" font-size="18.4" font-weight="bold" fill="#000" text-anchor="end" textLength="18.6" lengthAdjust="spacingAndGlyphs" >30</text>
<text x="901.8" y="130.4" font-family="Liberation Serif" font-size="18.4" font-weight="bold" fill="#000" text-anchor="end" textLength="18.6" lengthAdjust="spacingAndGlyphs" >25</text>
<text x="901.8" y="183.9" font-family="Liberation Serif" font-size="18.4" font-weight="bold" fill="#000" text-anchor="end" textLength="18.6" lengthAdjust="spacingAndGlyphs" >20</text>
<text x="901.8" y="237.3" font-family="Liberation Serif" font-size="18.4" font-weight="bold" fill="#000" text-anchor="end" textLength="18.6" lengthAdjust="spacingAndGlyphs" >15</text>
<text x="901.8" y="290.7" font-family="Liberation Serif" font-size="18.4" font-weight="bold" fill="#000" text-anchor="end" textLength="18.6" lengthAdjust="spacingAndGlyphs" >10</text>
<text x="908.9" y="334.4" font-family="Liberation Serif" font-size="18.4" font-weight="bold" fill="#000" text-anchor="middle" >0</text>
<text x="961.3" y="334.4" font-family="Liberation Serif" font-size="18.4" font-weight="bold" fill="#000" text-anchor="middle" >1</text>
<text x="1013.7" y="334.4" font-family="Liberation Serif" font-size="18.4" font-weight="bold" fill="#000" text-anchor="middle" >2</text>
<text x="1066.1" y="334.4" font-family="Liberation Serif" font-size="18.4" font-weight="bold" fill="#000" text-anchor="middle" >3</text>
<text x="1118.5" y="334.4" font-family="Liberation Serif" font-size="18.4" font-weight="bold" fill="#000" text-anchor="middle" >4</text>
<text x="1170.9" y="334.4" font-family="Liberation Serif" font-size="18.4" font-weight="bold" fill="#000" text-anchor="middle" >5</text>
<text x="1223.3" y="334.4" font-family="Liberation Serif" font-size="18.4" font-weight="bold" fill="#000" text-anchor="middle" >6</text>
<text x="1275.7" y="334.4" font-family="Liberation Serif" font-size="18.4" font-weight="bold" fill="#000" text-anchor="middle" >7</text>
<text x="986.4" y="369.7" font-family="Liberation Serif" font-size="24.6" font-weight="bold" fill="#000" text-anchor="start" textLength="212" lengthAdjust="spacingAndGlyphs" >Photon Energy (eV)</text>
<text transform="translate(871.2 217.6) rotate(-90)" font-family="Liberation Serif" font-size="25" font-weight="bold" fill="#000" textLength="108.3" lengthAdjust="spacingAndGlyphs"><tspan font-style="italic">&#952;</tspan><tspan font-size="15.5" dy="5.6">K</tspan><tspan dy="-5.6"> (mrad)</tspan></text>
<line x1="1048.6" y1="37.6" x2="1093.5" y2="37.6" stroke="#000" stroke-width="2"/>
<text x="1098.8" y="44.3" font-family="Liberation Serif" font-size="19.2" font-weight="bold" fill="#000" text-anchor="start" textLength="169.5" lengthAdjust="spacingAndGlyphs" >without electric field</text>
<path d="M909 469.6 C909.71 469.75 913.1 470.19 914.3 470.7 C915.5 471.21 917.13 472.35 918 473.4 C918.87 474.45 919.99 477.11 920.8 478.6 C921.61 480.09 923.22 482.41 924.1 484.6 C924.98 486.79 926.41 491.48 927.4 495 C928.39 498.52 930.41 506.73 931.5 511 C932.59 515.27 934.53 522.79 935.6 527 C936.67 531.21 937.67 535.79 939.5 542.6 C941.33 549.41 947.21 572.05 949.3 578.1 C951.39 584.15 953.36 584.32 955.2 588 C957.04 591.68 960.99 601.23 963.1 605.7 C965.21 610.17 969.15 618.07 971 621.5 C972.85 624.93 975.41 628.24 977 631.4 C978.59 634.56 981.33 642.04 982.9 645.2 C984.47 648.36 987.85 652.99 988.8 655.1 C989.75 657.21 989.63 660.64 990 661 C990.37 661.36 990.44 657.96 991.6 657.8 C992.76 657.64 996.7 659.21 998.7 659.8 C1000.7 660.39 1004.51 661.77 1006.6 662.2 C1008.69 662.63 1012.31 663.16 1014.4 663 C1016.49 662.84 1020.45 661.48 1022.3 661 C1024.15 660.52 1027.25 659.13 1028.3 659.4 C1029.35 659.67 1029.68 663.16 1030.2 663 C1030.72 662.84 1030.88 659.15 1032.2 658.2 C1033.52 657.25 1037.73 656.21 1040.1 655.9 C1042.47 655.59 1047.89 656.11 1050 655.9 C1052.11 655.69 1054.33 654.35 1055.9 654.3 C1057.47 654.25 1059.44 655.5 1061.8 655.5 C1064.16 655.5 1071.49 654.73 1073.6 654.3 C1075.71 653.87 1076.55 652.89 1077.6 652.3 C1078.65 651.71 1079.93 650.11 1081.5 649.9 C1083.07 649.69 1087.29 650.43 1089.4 650.7 C1091.51 650.97 1095.46 651.31 1097.3 651.9 C1099.14 652.49 1101.09 653.37 1103.2 655.1 C1105.31 656.83 1110.46 662.43 1113.1 664.9 C1115.74 667.37 1120.37 671.75 1123 673.6 C1125.63 675.45 1129.91 677.07 1132.8 678.8 C1135.69 680.53 1141.54 684.65 1144.7 686.6 C1147.86 688.55 1153.34 691.81 1156.5 693.4 C1159.66 694.99 1165.24 697.19 1168.4 698.5 C1171.56 699.81 1177.57 702.63 1180.2 703.2 C1182.83 703.77 1186.26 702.96 1188.1 702.8 C1189.94 702.64 1191.89 701.95 1194 702 C1196.11 702.05 1201.53 703.31 1203.9 703.2 C1206.27 703.09 1209.44 702.2 1211.8 701.2 C1214.16 700.2 1218.97 697.38 1221.6 695.7 C1224.23 694.02 1229.13 690.49 1231.5 688.6 C1233.87 686.71 1237.29 683.18 1239.4 681.5 C1241.51 679.82 1245.46 677.16 1247.3 676 C1249.14 674.84 1251.99 672.8 1253.2 672.8 C1254.41 672.8 1255.88 676 1256.4 676 C1256.92 676 1255.95 673.43 1257.1 672.8 C1258.25 672.17 1262.73 672.14 1265 671.3 C1267.27 670.46 1272.89 667.14 1274.1 666.5" stroke="#000" stroke-width="2.2" fill="none" stroke-linejoin="round" stroke-linecap="round"/>
<rect x="909" y="449.7" width="365.5" height="294.4" fill="none" stroke="#222" stroke-width="1.4"/>
<text x="902.8" y="478.1" font-family="Liberation Serif" font-size="18.4" font-weight="bold" fill="#000" text-anchor="end" >12</text>
<text x="902.8" y="523.3" font-family="Liberation Serif" font-size="18.4" font-weight="bold" fill="#000" text-anchor="end" >10</text>
<text x="902.8" y="569.1" font-family="Liberation Serif" font-size="18.4" font-weight="bold" fill="#000" text-anchor="end" >8</text>
<text x="902.8" y="614.4" font-family="Liberation Serif" font-size="18.4" font-weight="bold" fill="#000" text-anchor="end" >6</text>
<text x="902.8" y="659.6" font-family="Liberation Serif" font-size="18.4" font-weight="bold" fill="#000" text-anchor="end" >4</text>
<text x="902.8" y="705" font-family="Liberation Serif" font-size="18.4" font-weight="bold" fill="#000" text-anchor="end" >2</text>
<text x="902.8" y="750.1" font-family="Liberation Serif" font-size="18.4" font-weight="bold" fill="#000" text-anchor="end" >0</text>
<text x="909.3" y="766.3" font-family="Liberation Serif" font-size="18.4" font-weight="bold" fill="#000" text-anchor="middle" >0</text>
<text x="961.5" y="766.3" font-family="Liberation Serif" font-size="18.4" font-weight="bold" fill="#000" text-anchor="middle" >1</text>
<text x="1013.7" y="766.3" font-family="Liberation Serif" font-size="18.4" font-weight="bold" fill="#000" text-anchor="middle" >2</text>
<text x="1065.9" y="766.3" font-family="Liberation Serif" font-size="18.4" font-weight="bold" fill="#000" text-anchor="middle" >3</text>
<text x="1118.1" y="766.3" font-family="Liberation Serif" font-size="18.4" font-weight="bold" fill="#000" text-anchor="middle" >4</text>
<text x="1170.3" y="766.3" font-family="Liberation Serif" font-size="18.4" font-weight="bold" fill="#000" text-anchor="middle" >5</text>
<text x="1222.5" y="766.3" font-family="Liberation Serif" font-size="18.4" font-weight="bold" fill="#000" text-anchor="middle" >6</text>
<text x="1274.7" y="766.3" font-family="Liberation Serif" font-size="18.4" font-weight="bold" fill="#000" text-anchor="middle" >7</text>
<text x="987.1" y="801.7" font-family="Liberation Serif" font-size="24.6" font-weight="bold" fill="#000" text-anchor="start" textLength="210.6" lengthAdjust="spacingAndGlyphs" >Photon Energy (eV)</text>
<text transform="translate(871.6 651) rotate(-90)" font-family="Liberation Serif" font-size="25" font-weight="bold" fill="#000" textLength="107.8" lengthAdjust="spacingAndGlyphs"><tspan font-style="italic">&#952;</tspan><tspan font-size="15.5" dy="5.6">K</tspan><tspan dy="-5.6"> (mrad)</tspan></text>
<line x1="1144.3" y1="474.5" x2="1189" y2="474.5" stroke="#000" stroke-width="2"/>
<text x="1193.8" y="481.5" font-family="Liberation Serif" font-size="19.2" font-weight="bold" fill="#000" text-anchor="start" textLength="61" lengthAdjust="spacingAndGlyphs" >0.4 V/&#197;</text>
<text x="1033.6" y="427.9" font-family="Liberation Serif" font-size="40" font-weight="bold" fill="#000" text-anchor="start" textLength="124.6" lengthAdjust="spacingAndGlyphs" >MOKE</text>
</svg>
</body></html>
